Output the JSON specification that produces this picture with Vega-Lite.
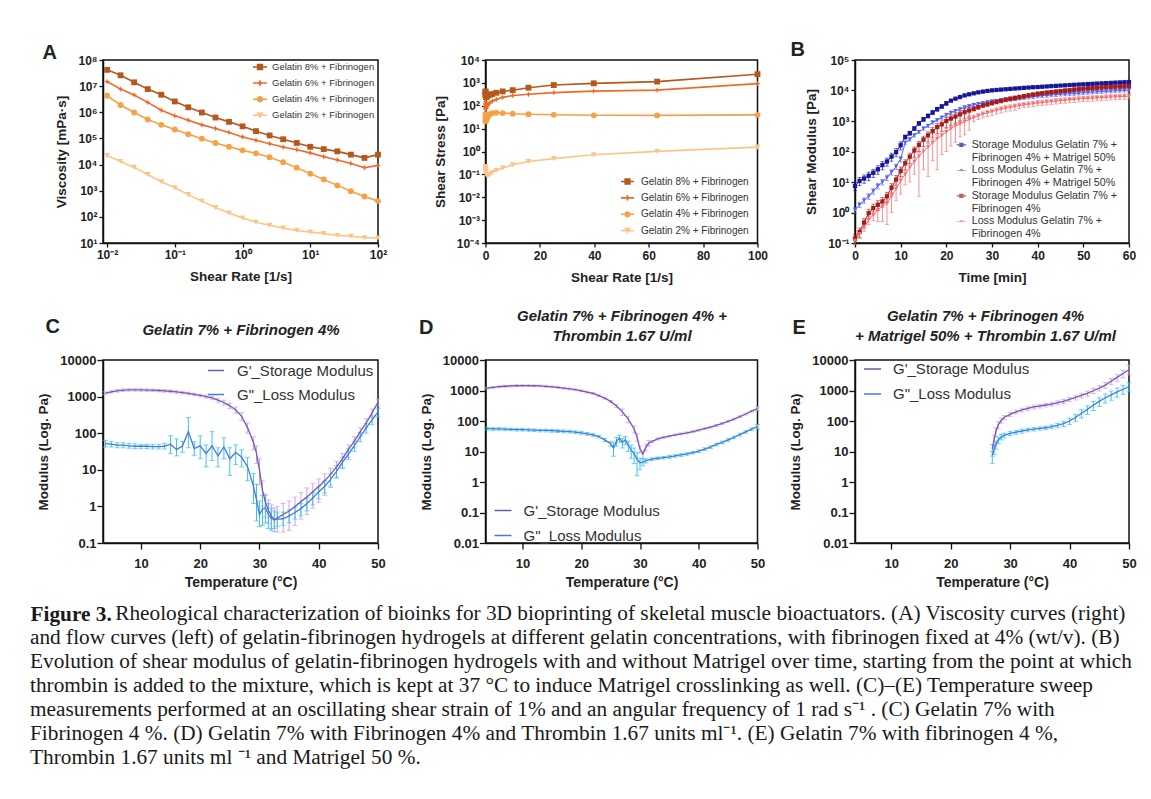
{
"$schema": "https://vega.github.io/schema/vega-lite/v6.json",
"background": "white",
"padding": {"left": 30, "top": 38, "right": 5, "bottom": 5},
"columns": 3,
"bounds": "flush",
"spacing": {"row": 117, "column": 97.5},
"resolve": {"scale": {"color": "independent", "shape": "independent"}, "legend": {"color": "independent", "shape": "independent"}},
"config": {
 "font": "Liberation Sans",
 "view": {"stroke": "#111", "strokeWidth": 1.5},
 "axis": {"domainColor": "#111", "domainWidth": 1.5, "tickColor": "#111", "tickWidth": 1.3, "tickSize": 4, "labelFont": "Liberation Sans", "labelFontWeight": "bold", "labelFontSize": 12, "labelColor": "#222", "labelPadding": 2, "labelFlush": false, "labelOverlap": false, "titleFont": "Liberation Sans", "titleFontWeight": "bold", "titleFontSize": 13.5, "titleColor": "#222", "grid": false},
 "legend": {"labelFont": "Liberation Sans", "labelColor": "#333", "padding": 0, "labelLimit": 400}
},
"datasets": {
 "visc": [
  {"rate":0.01,"series":"Gelatin 8% + Fibrinogen","viscosity":4.2e7,"stress":420},
  {"rate":0.0158,"series":"Gelatin 8% + Fibrinogen","viscosity":2.6e7,"stress":411},
  {"rate":0.0251,"series":"Gelatin 8% + Fibrinogen","viscosity":1.4e7,"stress":351},
  {"rate":0.0398,"series":"Gelatin 8% + Fibrinogen","viscosity":7.7e6,"stress":306},
  {"rate":0.0631,"series":"Gelatin 8% + Fibrinogen","viscosity":4.7e6,"stress":297},
  {"rate":0.1,"series":"Gelatin 8% + Fibrinogen","viscosity":2.6e6,"stress":260},
  {"rate":0.158,"series":"Gelatin 8% + Fibrinogen","viscosity":1.55e6,"stress":245},
  {"rate":0.251,"series":"Gelatin 8% + Fibrinogen","viscosity":9.8e5,"stress":246},
  {"rate":0.398,"series":"Gelatin 8% + Fibrinogen","viscosity":6.3e5,"stress":251},
  {"rate":0.631,"series":"Gelatin 8% + Fibrinogen","viscosity":4.3e5,"stress":271},
  {"rate":1,"series":"Gelatin 8% + Fibrinogen","viscosity":2.9e5,"stress":290},
  {"rate":1.58,"series":"Gelatin 8% + Fibrinogen","viscosity":1.9e5,"stress":300},
  {"rate":2.51,"series":"Gelatin 8% + Fibrinogen","viscosity":1.3e5,"stress":326},
  {"rate":3.98,"series":"Gelatin 8% + Fibrinogen","viscosity":9.3e4,"stress":370},
  {"rate":6.31,"series":"Gelatin 8% + Fibrinogen","viscosity":6.7e4,"stress":423},
  {"rate":10,"series":"Gelatin 8% + Fibrinogen","viscosity":4.8e4,"stress":480},
  {"rate":15.8,"series":"Gelatin 8% + Fibrinogen","viscosity":3.9e4,"stress":616},
  {"rate":25.1,"series":"Gelatin 8% + Fibrinogen","viscosity":3.2e4,"stress":803},
  {"rate":39.8,"series":"Gelatin 8% + Fibrinogen","viscosity":2.4e4,"stress":955},
  {"rate":63.1,"series":"Gelatin 8% + Fibrinogen","viscosity":1.8e4,"stress":1136},
  {"rate":100,"series":"Gelatin 8% + Fibrinogen","viscosity":2.4e4,"stress":2400},
  {"rate":0.01,"series":"Gelatin 6% + Fibrinogen","viscosity":1.5e7,"stress":150},
  {"rate":0.0158,"series":"Gelatin 6% + Fibrinogen","viscosity":7.7e6,"stress":122},
  {"rate":0.0251,"series":"Gelatin 6% + Fibrinogen","viscosity":4.6e6,"stress":115},
  {"rate":0.0398,"series":"Gelatin 6% + Fibrinogen","viscosity":2.4e6,"stress":95.5},
  {"rate":0.0631,"series":"Gelatin 6% + Fibrinogen","viscosity":1.2e6,"stress":75.7},
  {"rate":0.1,"series":"Gelatin 6% + Fibrinogen","viscosity":7.3e5,"stress":73},
  {"rate":0.158,"series":"Gelatin 6% + Fibrinogen","viscosity":5.0e5,"stress":79},
  {"rate":0.251,"series":"Gelatin 6% + Fibrinogen","viscosity":3.3e5,"stress":82.8},
  {"rate":0.398,"series":"Gelatin 6% + Fibrinogen","viscosity":2.4e5,"stress":95.5},
  {"rate":0.631,"series":"Gelatin 6% + Fibrinogen","viscosity":1.7e5,"stress":107},
  {"rate":1,"series":"Gelatin 6% + Fibrinogen","viscosity":1.14e5,"stress":114},
  {"rate":1.58,"series":"Gelatin 6% + Fibrinogen","viscosity":8.5e4,"stress":134},
  {"rate":2.51,"series":"Gelatin 6% + Fibrinogen","viscosity":6.3e4,"stress":158},
  {"rate":3.98,"series":"Gelatin 6% + Fibrinogen","viscosity":4.7e4,"stress":187},
  {"rate":6.31,"series":"Gelatin 6% + Fibrinogen","viscosity":3.7e4,"stress":233},
  {"rate":10,"series":"Gelatin 6% + Fibrinogen","viscosity":2.8e4,"stress":280},
  {"rate":15.8,"series":"Gelatin 6% + Fibrinogen","viscosity":2.0e4,"stress":316},
  {"rate":25.1,"series":"Gelatin 6% + Fibrinogen","viscosity":1.5e4,"stress":376},
  {"rate":39.8,"series":"Gelatin 6% + Fibrinogen","viscosity":1.1e4,"stress":438},
  {"rate":63.1,"series":"Gelatin 6% + Fibrinogen","viscosity":7.6e3,"stress":480},
  {"rate":100,"series":"Gelatin 6% + Fibrinogen","viscosity":9.3e3,"stress":930},
  {"rate":0.01,"series":"Gelatin 4% + Fibrinogen","viscosity":4.3e6,"stress":43},
  {"rate":0.0158,"series":"Gelatin 4% + Fibrinogen","viscosity":1.9e6,"stress":30},
  {"rate":0.0251,"series":"Gelatin 4% + Fibrinogen","viscosity":9.8e5,"stress":24.6},
  {"rate":0.0398,"series":"Gelatin 4% + Fibrinogen","viscosity":5.3e5,"stress":21.1},
  {"rate":0.0631,"series":"Gelatin 4% + Fibrinogen","viscosity":3.3e5,"stress":20.8},
  {"rate":0.1,"series":"Gelatin 4% + Fibrinogen","viscosity":2.2e5,"stress":22},
  {"rate":0.158,"series":"Gelatin 4% + Fibrinogen","viscosity":1.45e5,"stress":22.9},
  {"rate":0.251,"series":"Gelatin 4% + Fibrinogen","viscosity":9.8e4,"stress":24.6},
  {"rate":0.398,"series":"Gelatin 4% + Fibrinogen","viscosity":6.7e4,"stress":26.7},
  {"rate":0.631,"series":"Gelatin 4% + Fibrinogen","viscosity":4.8e4,"stress":30.3},
  {"rate":1,"series":"Gelatin 4% + Fibrinogen","viscosity":3.5e4,"stress":35},
  {"rate":1.58,"series":"Gelatin 4% + Fibrinogen","viscosity":2.7e4,"stress":42.7},
  {"rate":2.51,"series":"Gelatin 4% + Fibrinogen","viscosity":1.9e4,"stress":47.7},
  {"rate":3.98,"series":"Gelatin 4% + Fibrinogen","viscosity":1.24e4,"stress":49.4},
  {"rate":6.31,"series":"Gelatin 4% + Fibrinogen","viscosity":7.6e3,"stress":48},
  {"rate":10,"series":"Gelatin 4% + Fibrinogen","viscosity":4.5e3,"stress":45},
  {"rate":15.8,"series":"Gelatin 4% + Fibrinogen","viscosity":2.7e3,"stress":42.7},
  {"rate":25.1,"series":"Gelatin 4% + Fibrinogen","viscosity":1.6e3,"stress":40.2},
  {"rate":39.8,"series":"Gelatin 4% + Fibrinogen","viscosity":960,"stress":38.2},
  {"rate":63.1,"series":"Gelatin 4% + Fibrinogen","viscosity":600,"stress":37.9},
  {"rate":100,"series":"Gelatin 4% + Fibrinogen","viscosity":400,"stress":40},
  {"rate":0.01,"series":"Gelatin 2% + Fibrinogen","viscosity":2.2e4,"stress":0.22},
  {"rate":0.0158,"series":"Gelatin 2% + Fibrinogen","viscosity":1.3e4,"stress":0.205},
  {"rate":0.0251,"series":"Gelatin 2% + Fibrinogen","viscosity":7.8e3,"stress":0.196},
  {"rate":0.0398,"series":"Gelatin 2% + Fibrinogen","viscosity":4.2e3,"stress":0.167},
  {"rate":0.0631,"series":"Gelatin 2% + Fibrinogen","viscosity":2.2e3,"stress":0.139},
  {"rate":0.1,"series":"Gelatin 2% + Fibrinogen","viscosity":1.3e3,"stress":0.13},
  {"rate":0.158,"series":"Gelatin 2% + Fibrinogen","viscosity":710,"stress":0.112},
  {"rate":0.251,"series":"Gelatin 2% + Fibrinogen","viscosity":400,"stress":0.1},
  {"rate":0.398,"series":"Gelatin 2% + Fibrinogen","viscosity":230,"stress":0.0915},
  {"rate":0.631,"series":"Gelatin 2% + Fibrinogen","viscosity":140,"stress":0.0883},
  {"rate":1,"series":"Gelatin 2% + Fibrinogen","viscosity":91,"stress":0.091},
  {"rate":1.58,"series":"Gelatin 2% + Fibrinogen","viscosity":62,"stress":0.098},
  {"rate":2.51,"series":"Gelatin 2% + Fibrinogen","viscosity":48,"stress":0.12},
  {"rate":3.98,"series":"Gelatin 2% + Fibrinogen","viscosity":37,"stress":0.147},
  {"rate":6.31,"series":"Gelatin 2% + Fibrinogen","viscosity":30,"stress":0.189},
  {"rate":10,"series":"Gelatin 2% + Fibrinogen","viscosity":26,"stress":0.26},
  {"rate":15.8,"series":"Gelatin 2% + Fibrinogen","viscosity":23,"stress":0.363},
  {"rate":25.1,"series":"Gelatin 2% + Fibrinogen","viscosity":19.5,"stress":0.489},
  {"rate":39.8,"series":"Gelatin 2% + Fibrinogen","viscosity":18,"stress":0.716},
  {"rate":63.1,"series":"Gelatin 2% + Fibrinogen","viscosity":16,"stress":1.01},
  {"rate":100,"series":"Gelatin 2% + Fibrinogen","viscosity":15.5,"stress":1.55}
 ],
 "gel": [
  {"t":0,"series":"Storage Modulus Gelatin 7% + Fibrinogen 4%  + Matrigel 50%","modulus":7.4,"lo":5.2,"hi":9.6},
  {"t":1,"series":"Storage Modulus Gelatin 7% + Fibrinogen 4%  + Matrigel 50%","modulus":10.8,"lo":7.6,"hi":14},
  {"t":2,"series":"Storage Modulus Gelatin 7% + Fibrinogen 4%  + Matrigel 50%","modulus":13,"lo":9.1,"hi":17},
  {"t":3,"series":"Storage Modulus Gelatin 7% + Fibrinogen 4%  + Matrigel 50%","modulus":16,"lo":11,"hi":21},
  {"t":4,"series":"Storage Modulus Gelatin 7% + Fibrinogen 4%  + Matrigel 50%","modulus":20,"lo":14,"hi":26},
  {"t":5,"series":"Storage Modulus Gelatin 7% + Fibrinogen 4%  + Matrigel 50%","modulus":26,"lo":18,"hi":34},
  {"t":6,"series":"Storage Modulus Gelatin 7% + Fibrinogen 4%  + Matrigel 50%","modulus":36,"lo":25,"hi":47},
  {"t":7,"series":"Storage Modulus Gelatin 7% + Fibrinogen 4%  + Matrigel 50%","modulus":47,"lo":33,"hi":61},
  {"t":8,"series":"Storage Modulus Gelatin 7% + Fibrinogen 4%  + Matrigel 50%","modulus":68,"lo":48,"hi":88},
  {"t":9,"series":"Storage Modulus Gelatin 7% + Fibrinogen 4%  + Matrigel 50%","modulus":95,"lo":67,"hi":124},
  {"t":10,"series":"Storage Modulus Gelatin 7% + Fibrinogen 4%  + Matrigel 50%","modulus":160,"lo":112,"hi":208},
  {"t":11,"series":"Storage Modulus Gelatin 7% + Fibrinogen 4%  + Matrigel 50%","modulus":300,"lo":255,"hi":345},
  {"t":12,"series":"Storage Modulus Gelatin 7% + Fibrinogen 4%  + Matrigel 50%","modulus":400,"lo":340,"hi":460},
  {"t":13,"series":"Storage Modulus Gelatin 7% + Fibrinogen 4%  + Matrigel 50%","modulus":570,"lo":485,"hi":655},
  {"t":14,"series":"Storage Modulus Gelatin 7% + Fibrinogen 4%  + Matrigel 50%","modulus":840,"lo":714,"hi":966},
  {"t":15,"series":"Storage Modulus Gelatin 7% + Fibrinogen 4%  + Matrigel 50%","modulus":1140,"lo":969,"hi":1311},
  {"t":16,"series":"Storage Modulus Gelatin 7% + Fibrinogen 4%  + Matrigel 50%","modulus":1470,"lo":1250,"hi":1690},
  {"t":17,"series":"Storage Modulus Gelatin 7% + Fibrinogen 4%  + Matrigel 50%","modulus":1900,"lo":1615,"hi":2185},
  {"t":18,"series":"Storage Modulus Gelatin 7% + Fibrinogen 4%  + Matrigel 50%","modulus":2450,"lo":2083,"hi":2818},
  {"t":19,"series":"Storage Modulus Gelatin 7% + Fibrinogen 4%  + Matrigel 50%","modulus":3000,"lo":2550,"hi":3450},
  {"t":20,"series":"Storage Modulus Gelatin 7% + Fibrinogen 4%  + Matrigel 50%","modulus":3800,"lo":3230,"hi":4370},
  {"t":21,"series":"Storage Modulus Gelatin 7% + Fibrinogen 4%  + Matrigel 50%","modulus":4650,"lo":4325,"hi":4976},
  {"t":22,"series":"Storage Modulus Gelatin 7% + Fibrinogen 4%  + Matrigel 50%","modulus":5400,"lo":5022,"hi":5778},
  {"t":23,"series":"Storage Modulus Gelatin 7% + Fibrinogen 4%  + Matrigel 50%","modulus":6100,"lo":5673,"hi":6527},
  {"t":24,"series":"Storage Modulus Gelatin 7% + Fibrinogen 4%  + Matrigel 50%","modulus":6900,"lo":6417,"hi":7383},
  {"t":25,"series":"Storage Modulus Gelatin 7% + Fibrinogen 4%  + Matrigel 50%","modulus":7500,"lo":6975,"hi":8025},
  {"t":26,"series":"Storage Modulus Gelatin 7% + Fibrinogen 4%  + Matrigel 50%","modulus":8100,"lo":7533,"hi":8667},
  {"t":27,"series":"Storage Modulus Gelatin 7% + Fibrinogen 4%  + Matrigel 50%","modulus":8700,"lo":8091,"hi":9309},
  {"t":28,"series":"Storage Modulus Gelatin 7% + Fibrinogen 4%  + Matrigel 50%","modulus":9200,"lo":8556,"hi":9844},
  {"t":29,"series":"Storage Modulus Gelatin 7% + Fibrinogen 4%  + Matrigel 50%","modulus":9700,"lo":9021,"hi":10379},
  {"t":30,"series":"Storage Modulus Gelatin 7% + Fibrinogen 4%  + Matrigel 50%","modulus":10100,"lo":9393,"hi":10807},
  {"t":31,"series":"Storage Modulus Gelatin 7% + Fibrinogen 4%  + Matrigel 50%","modulus":10400,"lo":9672,"hi":11128},
  {"t":32,"series":"Storage Modulus Gelatin 7% + Fibrinogen 4%  + Matrigel 50%","modulus":10700,"lo":9951,"hi":11449},
  {"t":33,"series":"Storage Modulus Gelatin 7% + Fibrinogen 4%  + Matrigel 50%","modulus":11000,"lo":10230,"hi":11770},
  {"t":34,"series":"Storage Modulus Gelatin 7% + Fibrinogen 4%  + Matrigel 50%","modulus":11300,"lo":10509,"hi":12091},
  {"t":35,"series":"Storage Modulus Gelatin 7% + Fibrinogen 4%  + Matrigel 50%","modulus":11600,"lo":10788,"hi":12412},
  {"t":36,"series":"Storage Modulus Gelatin 7% + Fibrinogen 4%  + Matrigel 50%","modulus":11900,"lo":11067,"hi":12733},
  {"t":37,"series":"Storage Modulus Gelatin 7% + Fibrinogen 4%  + Matrigel 50%","modulus":12200,"lo":11346,"hi":13054},
  {"t":38,"series":"Storage Modulus Gelatin 7% + Fibrinogen 4%  + Matrigel 50%","modulus":12500,"lo":11625,"hi":13375},
  {"t":39,"series":"Storage Modulus Gelatin 7% + Fibrinogen 4%  + Matrigel 50%","modulus":12800,"lo":11904,"hi":13696},
  {"t":40,"series":"Storage Modulus Gelatin 7% + Fibrinogen 4%  + Matrigel 50%","modulus":13000,"lo":12090,"hi":13910},
  {"t":41,"series":"Storage Modulus Gelatin 7% + Fibrinogen 4%  + Matrigel 50%","modulus":13300,"lo":12369,"hi":14231},
  {"t":42,"series":"Storage Modulus Gelatin 7% + Fibrinogen 4%  + Matrigel 50%","modulus":13600,"lo":12648,"hi":14552},
  {"t":43,"series":"Storage Modulus Gelatin 7% + Fibrinogen 4%  + Matrigel 50%","modulus":13900,"lo":12927,"hi":14873},
  {"t":44,"series":"Storage Modulus Gelatin 7% + Fibrinogen 4%  + Matrigel 50%","modulus":14200,"lo":13206,"hi":15194},
  {"t":45,"series":"Storage Modulus Gelatin 7% + Fibrinogen 4%  + Matrigel 50%","modulus":14500,"lo":13485,"hi":15515},
  {"t":46,"series":"Storage Modulus Gelatin 7% + Fibrinogen 4%  + Matrigel 50%","modulus":14800,"lo":13764,"hi":15836},
  {"t":47,"series":"Storage Modulus Gelatin 7% + Fibrinogen 4%  + Matrigel 50%","modulus":15100,"lo":14043,"hi":16157},
  {"t":48,"series":"Storage Modulus Gelatin 7% + Fibrinogen 4%  + Matrigel 50%","modulus":15400,"lo":14322,"hi":16478},
  {"t":49,"series":"Storage Modulus Gelatin 7% + Fibrinogen 4%  + Matrigel 50%","modulus":15700,"lo":14601,"hi":16799},
  {"t":50,"series":"Storage Modulus Gelatin 7% + Fibrinogen 4%  + Matrigel 50%","modulus":16000,"lo":14880,"hi":17120},
  {"t":51,"series":"Storage Modulus Gelatin 7% + Fibrinogen 4%  + Matrigel 50%","modulus":16300,"lo":15159,"hi":17441},
  {"t":52,"series":"Storage Modulus Gelatin 7% + Fibrinogen 4%  + Matrigel 50%","modulus":16600,"lo":15438,"hi":17762},
  {"t":53,"series":"Storage Modulus Gelatin 7% + Fibrinogen 4%  + Matrigel 50%","modulus":16900,"lo":15717,"hi":18083},
  {"t":54,"series":"Storage Modulus Gelatin 7% + Fibrinogen 4%  + Matrigel 50%","modulus":17200,"lo":15996,"hi":18404},
  {"t":55,"series":"Storage Modulus Gelatin 7% + Fibrinogen 4%  + Matrigel 50%","modulus":17500,"lo":16275,"hi":18725},
  {"t":56,"series":"Storage Modulus Gelatin 7% + Fibrinogen 4%  + Matrigel 50%","modulus":17800,"lo":16554,"hi":19046},
  {"t":57,"series":"Storage Modulus Gelatin 7% + Fibrinogen 4%  + Matrigel 50%","modulus":18100,"lo":16833,"hi":19367},
  {"t":58,"series":"Storage Modulus Gelatin 7% + Fibrinogen 4%  + Matrigel 50%","modulus":18400,"lo":17112,"hi":19688},
  {"t":59,"series":"Storage Modulus Gelatin 7% + Fibrinogen 4%  + Matrigel 50%","modulus":18700,"lo":17391,"hi":20009},
  {"t":60,"series":"Storage Modulus Gelatin 7% + Fibrinogen 4%  + Matrigel 50%","modulus":19000,"lo":17670,"hi":20330},
  {"t":0,"series":"Loss Modulus Gelatin 7% + Fibrinogen 4%  + Matrigel 50%","modulus":1.2,"lo":0.96,"hi":1.44},
  {"t":1,"series":"Loss Modulus Gelatin 7% + Fibrinogen 4%  + Matrigel 50%","modulus":1.8,"lo":1.44,"hi":2.16},
  {"t":2,"series":"Loss Modulus Gelatin 7% + Fibrinogen 4%  + Matrigel 50%","modulus":2.5,"lo":2,"hi":3},
  {"t":3,"series":"Loss Modulus Gelatin 7% + Fibrinogen 4%  + Matrigel 50%","modulus":3.4,"lo":2.7,"hi":4.1},
  {"t":4,"series":"Loss Modulus Gelatin 7% + Fibrinogen 4%  + Matrigel 50%","modulus":5,"lo":4,"hi":6},
  {"t":5,"series":"Loss Modulus Gelatin 7% + Fibrinogen 4%  + Matrigel 50%","modulus":7.4,"lo":5.9,"hi":8.9},
  {"t":6,"series":"Loss Modulus Gelatin 7% + Fibrinogen 4%  + Matrigel 50%","modulus":10,"lo":8,"hi":12},
  {"t":7,"series":"Loss Modulus Gelatin 7% + Fibrinogen 4%  + Matrigel 50%","modulus":14,"lo":11.2,"hi":16.8},
  {"t":8,"series":"Loss Modulus Gelatin 7% + Fibrinogen 4%  + Matrigel 50%","modulus":21,"lo":16.8,"hi":25.2},
  {"t":9,"series":"Loss Modulus Gelatin 7% + Fibrinogen 4%  + Matrigel 50%","modulus":32,"lo":25.6,"hi":38.4},
  {"t":10,"series":"Loss Modulus Gelatin 7% + Fibrinogen 4%  + Matrigel 50%","modulus":57,"lo":45.6,"hi":68.4},
  {"t":11,"series":"Loss Modulus Gelatin 7% + Fibrinogen 4%  + Matrigel 50%","modulus":195,"lo":172,"hi":218},
  {"t":12,"series":"Loss Modulus Gelatin 7% + Fibrinogen 4%  + Matrigel 50%","modulus":250,"lo":220,"hi":280},
  {"t":13,"series":"Loss Modulus Gelatin 7% + Fibrinogen 4%  + Matrigel 50%","modulus":340,"lo":299,"hi":381},
  {"t":14,"series":"Loss Modulus Gelatin 7% + Fibrinogen 4%  + Matrigel 50%","modulus":440,"lo":387,"hi":493},
  {"t":15,"series":"Loss Modulus Gelatin 7% + Fibrinogen 4%  + Matrigel 50%","modulus":570,"lo":502,"hi":638},
  {"t":16,"series":"Loss Modulus Gelatin 7% + Fibrinogen 4%  + Matrigel 50%","modulus":700,"lo":616,"hi":784},
  {"t":17,"series":"Loss Modulus Gelatin 7% + Fibrinogen 4%  + Matrigel 50%","modulus":900,"lo":792,"hi":1008},
  {"t":18,"series":"Loss Modulus Gelatin 7% + Fibrinogen 4%  + Matrigel 50%","modulus":1080,"lo":950,"hi":1210},
  {"t":19,"series":"Loss Modulus Gelatin 7% + Fibrinogen 4%  + Matrigel 50%","modulus":1300,"lo":1144,"hi":1456},
  {"t":20,"series":"Loss Modulus Gelatin 7% + Fibrinogen 4%  + Matrigel 50%","modulus":1600,"lo":1408,"hi":1792},
  {"t":21,"series":"Loss Modulus Gelatin 7% + Fibrinogen 4%  + Matrigel 50%","modulus":1870,"lo":1646,"hi":2094},
  {"t":22,"series":"Loss Modulus Gelatin 7% + Fibrinogen 4%  + Matrigel 50%","modulus":2150,"lo":1892,"hi":2408},
  {"t":23,"series":"Loss Modulus Gelatin 7% + Fibrinogen 4%  + Matrigel 50%","modulus":2450,"lo":2156,"hi":2744},
  {"t":24,"series":"Loss Modulus Gelatin 7% + Fibrinogen 4%  + Matrigel 50%","modulus":2800,"lo":2464,"hi":3136},
  {"t":25,"series":"Loss Modulus Gelatin 7% + Fibrinogen 4%  + Matrigel 50%","modulus":3100,"lo":2728,"hi":3472},
  {"t":26,"series":"Loss Modulus Gelatin 7% + Fibrinogen 4%  + Matrigel 50%","modulus":3400,"lo":2992,"hi":3808},
  {"t":27,"series":"Loss Modulus Gelatin 7% + Fibrinogen 4%  + Matrigel 50%","modulus":3650,"lo":3212,"hi":4088},
  {"t":28,"series":"Loss Modulus Gelatin 7% + Fibrinogen 4%  + Matrigel 50%","modulus":3900,"lo":3432,"hi":4368},
  {"t":29,"series":"Loss Modulus Gelatin 7% + Fibrinogen 4%  + Matrigel 50%","modulus":4150,"lo":3652,"hi":4648},
  {"t":30,"series":"Loss Modulus Gelatin 7% + Fibrinogen 4%  + Matrigel 50%","modulus":4400,"lo":3872,"hi":4928},
  {"t":31,"series":"Loss Modulus Gelatin 7% + Fibrinogen 4%  + Matrigel 50%","modulus":4600,"lo":4048,"hi":5152},
  {"t":32,"series":"Loss Modulus Gelatin 7% + Fibrinogen 4%  + Matrigel 50%","modulus":4800,"lo":4224,"hi":5376},
  {"t":33,"series":"Loss Modulus Gelatin 7% + Fibrinogen 4%  + Matrigel 50%","modulus":5000,"lo":4400,"hi":5600},
  {"t":34,"series":"Loss Modulus Gelatin 7% + Fibrinogen 4%  + Matrigel 50%","modulus":5150,"lo":4532,"hi":5768},
  {"t":35,"series":"Loss Modulus Gelatin 7% + Fibrinogen 4%  + Matrigel 50%","modulus":5300,"lo":4664,"hi":5936},
  {"t":36,"series":"Loss Modulus Gelatin 7% + Fibrinogen 4%  + Matrigel 50%","modulus":5550,"lo":4884,"hi":6216},
  {"t":37,"series":"Loss Modulus Gelatin 7% + Fibrinogen 4%  + Matrigel 50%","modulus":5800,"lo":5104,"hi":6496},
  {"t":38,"series":"Loss Modulus Gelatin 7% + Fibrinogen 4%  + Matrigel 50%","modulus":6000,"lo":5280,"hi":6720},
  {"t":39,"series":"Loss Modulus Gelatin 7% + Fibrinogen 4%  + Matrigel 50%","modulus":6250,"lo":5500,"hi":7000},
  {"t":40,"series":"Loss Modulus Gelatin 7% + Fibrinogen 4%  + Matrigel 50%","modulus":6500,"lo":5720,"hi":7280},
  {"t":41,"series":"Loss Modulus Gelatin 7% + Fibrinogen 4%  + Matrigel 50%","modulus":6700,"lo":5896,"hi":7504},
  {"t":42,"series":"Loss Modulus Gelatin 7% + Fibrinogen 4%  + Matrigel 50%","modulus":6900,"lo":6072,"hi":7728},
  {"t":43,"series":"Loss Modulus Gelatin 7% + Fibrinogen 4%  + Matrigel 50%","modulus":7100,"lo":6248,"hi":7952},
  {"t":44,"series":"Loss Modulus Gelatin 7% + Fibrinogen 4%  + Matrigel 50%","modulus":7300,"lo":6424,"hi":8176},
  {"t":45,"series":"Loss Modulus Gelatin 7% + Fibrinogen 4%  + Matrigel 50%","modulus":7500,"lo":6600,"hi":8400},
  {"t":46,"series":"Loss Modulus Gelatin 7% + Fibrinogen 4%  + Matrigel 50%","modulus":7650,"lo":6732,"hi":8568},
  {"t":47,"series":"Loss Modulus Gelatin 7% + Fibrinogen 4%  + Matrigel 50%","modulus":7800,"lo":6864,"hi":8736},
  {"t":48,"series":"Loss Modulus Gelatin 7% + Fibrinogen 4%  + Matrigel 50%","modulus":7950,"lo":6996,"hi":8904},
  {"t":49,"series":"Loss Modulus Gelatin 7% + Fibrinogen 4%  + Matrigel 50%","modulus":8100,"lo":7128,"hi":9072},
  {"t":50,"series":"Loss Modulus Gelatin 7% + Fibrinogen 4%  + Matrigel 50%","modulus":8400,"lo":7392,"hi":9408},
  {"t":51,"series":"Loss Modulus Gelatin 7% + Fibrinogen 4%  + Matrigel 50%","modulus":8600,"lo":7568,"hi":9632},
  {"t":52,"series":"Loss Modulus Gelatin 7% + Fibrinogen 4%  + Matrigel 50%","modulus":8800,"lo":7744,"hi":9856},
  {"t":53,"series":"Loss Modulus Gelatin 7% + Fibrinogen 4%  + Matrigel 50%","modulus":9000,"lo":7920,"hi":10080},
  {"t":54,"series":"Loss Modulus Gelatin 7% + Fibrinogen 4%  + Matrigel 50%","modulus":9200,"lo":8096,"hi":10304},
  {"t":55,"series":"Loss Modulus Gelatin 7% + Fibrinogen 4%  + Matrigel 50%","modulus":9400,"lo":8272,"hi":10528},
  {"t":56,"series":"Loss Modulus Gelatin 7% + Fibrinogen 4%  + Matrigel 50%","modulus":9600,"lo":8448,"hi":10752},
  {"t":57,"series":"Loss Modulus Gelatin 7% + Fibrinogen 4%  + Matrigel 50%","modulus":9800,"lo":8624,"hi":10976},
  {"t":58,"series":"Loss Modulus Gelatin 7% + Fibrinogen 4%  + Matrigel 50%","modulus":10000,"lo":8800,"hi":11200},
  {"t":59,"series":"Loss Modulus Gelatin 7% + Fibrinogen 4%  + Matrigel 50%","modulus":10100,"lo":8888,"hi":11312},
  {"t":60,"series":"Loss Modulus Gelatin 7% + Fibrinogen 4%  + Matrigel 50%","modulus":10200,"lo":8976,"hi":11424},
  {"t":0,"series":"Storage Modulus Gelatin 7% + Fibrinogen 4%","modulus":0.14,"lo":0.09,"hi":0.19},
  {"t":1,"series":"Storage Modulus Gelatin 7% + Fibrinogen 4%","modulus":0.23,"lo":0.15,"hi":0.31},
  {"t":2,"series":"Storage Modulus Gelatin 7% + Fibrinogen 4%","modulus":0.47,"lo":0.31,"hi":0.63},
  {"t":3,"series":"Storage Modulus Gelatin 7% + Fibrinogen 4%","modulus":0.95,"lo":0.62,"hi":1.28},
  {"t":4,"series":"Storage Modulus Gelatin 7% + Fibrinogen 4%","modulus":1.4,"lo":0.91,"hi":1.89},
  {"t":5,"series":"Storage Modulus Gelatin 7% + Fibrinogen 4%","modulus":1.8,"lo":1.17,"hi":2.43},
  {"t":6,"series":"Storage Modulus Gelatin 7% + Fibrinogen 4%","modulus":2.3,"lo":1.5,"hi":3.1},
  {"t":7,"series":"Storage Modulus Gelatin 7% + Fibrinogen 4%","modulus":3.4,"lo":2.2,"hi":4.6},
  {"t":8,"series":"Storage Modulus Gelatin 7% + Fibrinogen 4%","modulus":6.5,"lo":4.2,"hi":8.8},
  {"t":9,"series":"Storage Modulus Gelatin 7% + Fibrinogen 4%","modulus":12,"lo":7.8,"hi":16.2},
  {"t":10,"series":"Storage Modulus Gelatin 7% + Fibrinogen 4%","modulus":23,"lo":15,"hi":31},
  {"t":11,"series":"Storage Modulus Gelatin 7% + Fibrinogen 4%","modulus":41,"lo":24.6,"hi":53.3},
  {"t":12,"series":"Storage Modulus Gelatin 7% + Fibrinogen 4%","modulus":68,"lo":40.8,"hi":88.4},
  {"t":13,"series":"Storage Modulus Gelatin 7% + Fibrinogen 4%","modulus":108,"lo":64.8,"hi":140},
  {"t":14,"series":"Storage Modulus Gelatin 7% + Fibrinogen 4%","modulus":165,"lo":99,"hi":214},
  {"t":15,"series":"Storage Modulus Gelatin 7% + Fibrinogen 4%","modulus":245,"lo":147,"hi":318},
  {"t":16,"series":"Storage Modulus Gelatin 7% + Fibrinogen 4%","modulus":340,"lo":204,"hi":442},
  {"t":17,"series":"Storage Modulus Gelatin 7% + Fibrinogen 4%","modulus":465,"lo":279,"hi":604},
  {"t":18,"series":"Storage Modulus Gelatin 7% + Fibrinogen 4%","modulus":630,"lo":378,"hi":819},
  {"t":19,"series":"Storage Modulus Gelatin 7% + Fibrinogen 4%","modulus":775,"lo":465,"hi":1007},
  {"t":20,"series":"Storage Modulus Gelatin 7% + Fibrinogen 4%","modulus":1000,"lo":600,"hi":1300},
  {"t":21,"series":"Storage Modulus Gelatin 7% + Fibrinogen 4%","modulus":1200,"lo":720,"hi":1560},
  {"t":22,"series":"Storage Modulus Gelatin 7% + Fibrinogen 4%","modulus":1400,"lo":840,"hi":1820},
  {"t":23,"series":"Storage Modulus Gelatin 7% + Fibrinogen 4%","modulus":1650,"lo":990,"hi":2145},
  {"t":24,"series":"Storage Modulus Gelatin 7% + Fibrinogen 4%","modulus":1950,"lo":1170,"hi":2535},
  {"t":25,"series":"Storage Modulus Gelatin 7% + Fibrinogen 4%","modulus":2200,"lo":1320,"hi":2860},
  {"t":26,"series":"Storage Modulus Gelatin 7% + Fibrinogen 4%","modulus":2500,"lo":2125,"hi":2875},
  {"t":27,"series":"Storage Modulus Gelatin 7% + Fibrinogen 4%","modulus":2850,"lo":2422,"hi":3278},
  {"t":28,"series":"Storage Modulus Gelatin 7% + Fibrinogen 4%","modulus":3250,"lo":2762,"hi":3738},
  {"t":29,"series":"Storage Modulus Gelatin 7% + Fibrinogen 4%","modulus":3550,"lo":3018,"hi":4082},
  {"t":30,"series":"Storage Modulus Gelatin 7% + Fibrinogen 4%","modulus":3900,"lo":3315,"hi":4485},
  {"t":31,"series":"Storage Modulus Gelatin 7% + Fibrinogen 4%","modulus":4250,"lo":3612,"hi":4888},
  {"t":32,"series":"Storage Modulus Gelatin 7% + Fibrinogen 4%","modulus":4600,"lo":3910,"hi":5290},
  {"t":33,"series":"Storage Modulus Gelatin 7% + Fibrinogen 4%","modulus":5000,"lo":4250,"hi":5750},
  {"t":34,"series":"Storage Modulus Gelatin 7% + Fibrinogen 4%","modulus":5350,"lo":4548,"hi":6152},
  {"t":35,"series":"Storage Modulus Gelatin 7% + Fibrinogen 4%","modulus":5700,"lo":4845,"hi":6555},
  {"t":36,"series":"Storage Modulus Gelatin 7% + Fibrinogen 4%","modulus":6100,"lo":5185,"hi":7015},
  {"t":37,"series":"Storage Modulus Gelatin 7% + Fibrinogen 4%","modulus":6500,"lo":5525,"hi":7475},
  {"t":38,"series":"Storage Modulus Gelatin 7% + Fibrinogen 4%","modulus":6900,"lo":5865,"hi":7935},
  {"t":39,"series":"Storage Modulus Gelatin 7% + Fibrinogen 4%","modulus":7300,"lo":6205,"hi":8395},
  {"t":40,"series":"Storage Modulus Gelatin 7% + Fibrinogen 4%","modulus":7800,"lo":6630,"hi":8970},
  {"t":41,"series":"Storage Modulus Gelatin 7% + Fibrinogen 4%","modulus":8100,"lo":6885,"hi":9315},
  {"t":42,"series":"Storage Modulus Gelatin 7% + Fibrinogen 4%","modulus":8450,"lo":7182,"hi":9718},
  {"t":43,"series":"Storage Modulus Gelatin 7% + Fibrinogen 4%","modulus":8800,"lo":7480,"hi":10120},
  {"t":44,"series":"Storage Modulus Gelatin 7% + Fibrinogen 4%","modulus":9150,"lo":7778,"hi":10522},
  {"t":45,"series":"Storage Modulus Gelatin 7% + Fibrinogen 4%","modulus":9500,"lo":8075,"hi":10925},
  {"t":46,"series":"Storage Modulus Gelatin 7% + Fibrinogen 4%","modulus":9850,"lo":8372,"hi":11328},
  {"t":47,"series":"Storage Modulus Gelatin 7% + Fibrinogen 4%","modulus":10200,"lo":8670,"hi":11730},
  {"t":48,"series":"Storage Modulus Gelatin 7% + Fibrinogen 4%","modulus":10600,"lo":9010,"hi":12190},
  {"t":49,"series":"Storage Modulus Gelatin 7% + Fibrinogen 4%","modulus":11000,"lo":9350,"hi":12650},
  {"t":50,"series":"Storage Modulus Gelatin 7% + Fibrinogen 4%","modulus":11400,"lo":9690,"hi":13110},
  {"t":51,"series":"Storage Modulus Gelatin 7% + Fibrinogen 4%","modulus":11700,"lo":9945,"hi":13455},
  {"t":52,"series":"Storage Modulus Gelatin 7% + Fibrinogen 4%","modulus":12000,"lo":10200,"hi":13800},
  {"t":53,"series":"Storage Modulus Gelatin 7% + Fibrinogen 4%","modulus":12300,"lo":10455,"hi":14145},
  {"t":54,"series":"Storage Modulus Gelatin 7% + Fibrinogen 4%","modulus":12600,"lo":10710,"hi":14490},
  {"t":55,"series":"Storage Modulus Gelatin 7% + Fibrinogen 4%","modulus":13000,"lo":11050,"hi":14950},
  {"t":56,"series":"Storage Modulus Gelatin 7% + Fibrinogen 4%","modulus":13200,"lo":11220,"hi":15180},
  {"t":57,"series":"Storage Modulus Gelatin 7% + Fibrinogen 4%","modulus":13400,"lo":11390,"hi":15410},
  {"t":58,"series":"Storage Modulus Gelatin 7% + Fibrinogen 4%","modulus":13600,"lo":11560,"hi":15640},
  {"t":59,"series":"Storage Modulus Gelatin 7% + Fibrinogen 4%","modulus":13800,"lo":11730,"hi":15870},
  {"t":60,"series":"Storage Modulus Gelatin 7% + Fibrinogen 4%","modulus":14000,"lo":11900,"hi":16100},
  {"t":0,"series":"Loss Modulus Gelatin 7% + Fibrinogen 4%","modulus":0.12,"lo":0.09,"hi":0.15},
  {"t":1,"series":"Loss Modulus Gelatin 7% + Fibrinogen 4%","modulus":0.2,"lo":0.14,"hi":0.26},
  {"t":2,"series":"Loss Modulus Gelatin 7% + Fibrinogen 4%","modulus":0.34,"lo":0.24,"hi":0.44},
  {"t":3,"series":"Loss Modulus Gelatin 7% + Fibrinogen 4%","modulus":0.57,"lo":0.4,"hi":0.74},
  {"t":4,"series":"Loss Modulus Gelatin 7% + Fibrinogen 4%","modulus":0.83,"lo":0.55,"hi":1.08},
  {"t":5,"series":"Loss Modulus Gelatin 7% + Fibrinogen 4%","modulus":1.2,"lo":0.5,"hi":1.56},
  {"t":6,"series":"Loss Modulus Gelatin 7% + Fibrinogen 4%","modulus":1.6,"lo":0.5,"hi":2.08},
  {"t":7,"series":"Loss Modulus Gelatin 7% + Fibrinogen 4%","modulus":2.0,"lo":0.4,"hi":2.6},
  {"t":8,"series":"Loss Modulus Gelatin 7% + Fibrinogen 4%","modulus":3.4,"lo":1.0,"hi":4.4},
  {"t":9,"series":"Loss Modulus Gelatin 7% + Fibrinogen 4%","modulus":6,"lo":2.5,"hi":7.8},
  {"t":10,"series":"Loss Modulus Gelatin 7% + Fibrinogen 4%","modulus":11,"lo":4,"hi":14.3},
  {"t":11,"series":"Loss Modulus Gelatin 7% + Fibrinogen 4%","modulus":18,"lo":8,"hi":23.4},
  {"t":12,"series":"Loss Modulus Gelatin 7% + Fibrinogen 4%","modulus":30,"lo":10,"hi":39},
  {"t":13,"series":"Loss Modulus Gelatin 7% + Fibrinogen 4%","modulus":47,"lo":18,"hi":61},
  {"t":14,"series":"Loss Modulus Gelatin 7% + Fibrinogen 4%","modulus":70,"lo":3.4,"hi":91},
  {"t":15,"series":"Loss Modulus Gelatin 7% + Fibrinogen 4%","modulus":100,"lo":25,"hi":130},
  {"t":16,"series":"Loss Modulus Gelatin 7% + Fibrinogen 4%","modulus":140,"lo":15,"hi":182},
  {"t":17,"series":"Loss Modulus Gelatin 7% + Fibrinogen 4%","modulus":195,"lo":50,"hi":254},
  {"t":18,"series":"Loss Modulus Gelatin 7% + Fibrinogen 4%","modulus":265,"lo":25,"hi":345},
  {"t":19,"series":"Loss Modulus Gelatin 7% + Fibrinogen 4%","modulus":340,"lo":80,"hi":442},
  {"t":20,"series":"Loss Modulus Gelatin 7% + Fibrinogen 4%","modulus":440,"lo":100,"hi":572},
  {"t":21,"series":"Loss Modulus Gelatin 7% + Fibrinogen 4%","modulus":560,"lo":150,"hi":728},
  {"t":22,"series":"Loss Modulus Gelatin 7% + Fibrinogen 4%","modulus":680,"lo":200,"hi":884},
  {"t":23,"series":"Loss Modulus Gelatin 7% + Fibrinogen 4%","modulus":810,"lo":300,"hi":1053},
  {"t":24,"series":"Loss Modulus Gelatin 7% + Fibrinogen 4%","modulus":950,"lo":350,"hi":1235},
  {"t":25,"series":"Loss Modulus Gelatin 7% + Fibrinogen 4%","modulus":1120,"lo":500,"hi":1456},
  {"t":26,"series":"Loss Modulus Gelatin 7% + Fibrinogen 4%","modulus":1300,"lo":975,"hi":1560},
  {"t":27,"series":"Loss Modulus Gelatin 7% + Fibrinogen 4%","modulus":1480,"lo":1110,"hi":1776},
  {"t":28,"series":"Loss Modulus Gelatin 7% + Fibrinogen 4%","modulus":1670,"lo":1252,"hi":2004},
  {"t":29,"series":"Loss Modulus Gelatin 7% + Fibrinogen 4%","modulus":1860,"lo":1395,"hi":2232},
  {"t":30,"series":"Loss Modulus Gelatin 7% + Fibrinogen 4%","modulus":2050,"lo":1538,"hi":2460},
  {"t":31,"series":"Loss Modulus Gelatin 7% + Fibrinogen 4%","modulus":2250,"lo":1688,"hi":2700},
  {"t":32,"series":"Loss Modulus Gelatin 7% + Fibrinogen 4%","modulus":2450,"lo":1838,"hi":2940},
  {"t":33,"series":"Loss Modulus Gelatin 7% + Fibrinogen 4%","modulus":2650,"lo":1988,"hi":3180},
  {"t":34,"series":"Loss Modulus Gelatin 7% + Fibrinogen 4%","modulus":2830,"lo":2122,"hi":3396},
  {"t":35,"series":"Loss Modulus Gelatin 7% + Fibrinogen 4%","modulus":3000,"lo":2250,"hi":3600},
  {"t":36,"series":"Loss Modulus Gelatin 7% + Fibrinogen 4%","modulus":3200,"lo":2560,"hi":3840},
  {"t":37,"series":"Loss Modulus Gelatin 7% + Fibrinogen 4%","modulus":3400,"lo":2720,"hi":4080},
  {"t":38,"series":"Loss Modulus Gelatin 7% + Fibrinogen 4%","modulus":3550,"lo":2840,"hi":4260},
  {"t":39,"series":"Loss Modulus Gelatin 7% + Fibrinogen 4%","modulus":3700,"lo":2960,"hi":4440},
  {"t":40,"series":"Loss Modulus Gelatin 7% + Fibrinogen 4%","modulus":3900,"lo":3120,"hi":4680},
  {"t":41,"series":"Loss Modulus Gelatin 7% + Fibrinogen 4%","modulus":4050,"lo":3240,"hi":4860},
  {"t":42,"series":"Loss Modulus Gelatin 7% + Fibrinogen 4%","modulus":4200,"lo":3360,"hi":5040},
  {"t":43,"series":"Loss Modulus Gelatin 7% + Fibrinogen 4%","modulus":4350,"lo":3480,"hi":5220},
  {"t":44,"series":"Loss Modulus Gelatin 7% + Fibrinogen 4%","modulus":4500,"lo":3600,"hi":5400},
  {"t":45,"series":"Loss Modulus Gelatin 7% + Fibrinogen 4%","modulus":4650,"lo":3720,"hi":5580},
  {"t":46,"series":"Loss Modulus Gelatin 7% + Fibrinogen 4%","modulus":4800,"lo":3840,"hi":5760},
  {"t":47,"series":"Loss Modulus Gelatin 7% + Fibrinogen 4%","modulus":4950,"lo":3960,"hi":5940},
  {"t":48,"series":"Loss Modulus Gelatin 7% + Fibrinogen 4%","modulus":5100,"lo":4080,"hi":6120},
  {"t":49,"series":"Loss Modulus Gelatin 7% + Fibrinogen 4%","modulus":5250,"lo":4200,"hi":6300},
  {"t":50,"series":"Loss Modulus Gelatin 7% + Fibrinogen 4%","modulus":5400,"lo":4320,"hi":6480},
  {"t":51,"series":"Loss Modulus Gelatin 7% + Fibrinogen 4%","modulus":5500,"lo":4400,"hi":6600},
  {"t":52,"series":"Loss Modulus Gelatin 7% + Fibrinogen 4%","modulus":5600,"lo":4480,"hi":6720},
  {"t":53,"series":"Loss Modulus Gelatin 7% + Fibrinogen 4%","modulus":5700,"lo":4560,"hi":6840},
  {"t":54,"series":"Loss Modulus Gelatin 7% + Fibrinogen 4%","modulus":5800,"lo":4640,"hi":6960},
  {"t":55,"series":"Loss Modulus Gelatin 7% + Fibrinogen 4%","modulus":6000,"lo":4800,"hi":7200},
  {"t":56,"series":"Loss Modulus Gelatin 7% + Fibrinogen 4%","modulus":6100,"lo":4880,"hi":7320},
  {"t":57,"series":"Loss Modulus Gelatin 7% + Fibrinogen 4%","modulus":6200,"lo":4960,"hi":7440},
  {"t":58,"series":"Loss Modulus Gelatin 7% + Fibrinogen 4%","modulus":6300,"lo":5040,"hi":7560},
  {"t":59,"series":"Loss Modulus Gelatin 7% + Fibrinogen 4%","modulus":6400,"lo":5120,"hi":7680},
  {"t":60,"series":"Loss Modulus Gelatin 7% + Fibrinogen 4%","modulus":6500,"lo":5200,"hi":7800}
 ],
 "sweepC": [
  {"temperature":4,"series":"G'_Storage Modulus","modulus":1250,"lo":1150,"hi":1350},
  {"temperature":5,"series":"G'_Storage Modulus","modulus":1350,"lo":1240,"hi":1460},
  {"temperature":6,"series":"G'_Storage Modulus","modulus":1440,"lo":1320,"hi":1560},
  {"temperature":7,"series":"G'_Storage Modulus","modulus":1500,"lo":1380,"hi":1620},
  {"temperature":8,"series":"G'_Storage Modulus","modulus":1520,"lo":1400,"hi":1640},
  {"temperature":9,"series":"G'_Storage Modulus","modulus":1530,"lo":1410,"hi":1650},
  {"temperature":10,"series":"G'_Storage Modulus","modulus":1520,"lo":1400,"hi":1640},
  {"temperature":11,"series":"G'_Storage Modulus","modulus":1510,"lo":1390,"hi":1630},
  {"temperature":12,"series":"G'_Storage Modulus","modulus":1500,"lo":1380,"hi":1620},
  {"temperature":13,"series":"G'_Storage Modulus","modulus":1470,"lo":1350,"hi":1590},
  {"temperature":14,"series":"G'_Storage Modulus","modulus":1440,"lo":1320,"hi":1560},
  {"temperature":15,"series":"G'_Storage Modulus","modulus":1400,"lo":1290,"hi":1510},
  {"temperature":16,"series":"G'_Storage Modulus","modulus":1340,"lo":1230,"hi":1450},
  {"temperature":17,"series":"G'_Storage Modulus","modulus":1280,"lo":1180,"hi":1380},
  {"temperature":18,"series":"G'_Storage Modulus","modulus":1220,"lo":1120,"hi":1320},
  {"temperature":19,"series":"G'_Storage Modulus","modulus":1150,"lo":1060,"hi":1240},
  {"temperature":20,"series":"G'_Storage Modulus","modulus":1080,"lo":990,"hi":1170},
  {"temperature":21,"series":"G'_Storage Modulus","modulus":1000,"lo":900,"hi":1100},
  {"temperature":22,"series":"G'_Storage Modulus","modulus":920,"lo":820,"hi":1020},
  {"temperature":23,"series":"G'_Storage Modulus","modulus":800,"lo":700,"hi":900},
  {"temperature":24,"series":"G'_Storage Modulus","modulus":690,"lo":590,"hi":800},
  {"temperature":25,"series":"G'_Storage Modulus","modulus":560,"lo":470,"hi":650},
  {"temperature":26,"series":"G'_Storage Modulus","modulus":430,"lo":350,"hi":520},
  {"temperature":27,"series":"G'_Storage Modulus","modulus":290,"lo":220,"hi":370},
  {"temperature":28,"series":"G'_Storage Modulus","modulus":140,"lo":100,"hi":190},
  {"temperature":29,"series":"G'_Storage Modulus","modulus":55,"lo":35,"hi":80},
  {"temperature":29.5,"series":"G'_Storage Modulus","modulus":28,"lo":15,"hi":45},
  {"temperature":30,"series":"G'_Storage Modulus","modulus":10,"lo":4,"hi":20},
  {"temperature":30.5,"series":"G'_Storage Modulus","modulus":2.8,"lo":1,"hi":5},
  {"temperature":31,"series":"G'_Storage Modulus","modulus":1.3,"lo":0.5,"hi":2.2},
  {"temperature":31.5,"series":"G'_Storage Modulus","modulus":0.8,"lo":0.35,"hi":1.5},
  {"temperature":32,"series":"G'_Storage Modulus","modulus":0.55,"lo":0.25,"hi":1.1},
  {"temperature":32.5,"series":"G'_Storage Modulus","modulus":0.42,"lo":0.2,"hi":0.9},
  {"temperature":33,"series":"G'_Storage Modulus","modulus":0.48,"lo":0.2,"hi":1.0},
  {"temperature":34,"series":"G'_Storage Modulus","modulus":0.6,"lo":0.2,"hi":1.2},
  {"temperature":35,"series":"G'_Storage Modulus","modulus":0.75,"lo":0.22,"hi":1.4},
  {"temperature":36,"series":"G'_Storage Modulus","modulus":1.0,"lo":0.3,"hi":1.8},
  {"temperature":37,"series":"G'_Storage Modulus","modulus":1.35,"lo":0.45,"hi":2.4},
  {"temperature":38,"series":"G'_Storage Modulus","modulus":1.8,"lo":0.6,"hi":3.2},
  {"temperature":39,"series":"G'_Storage Modulus","modulus":2.5,"lo":0.9,"hi":4.2},
  {"temperature":40,"series":"G'_Storage Modulus","modulus":3.5,"lo":1.3,"hi":5.6},
  {"temperature":41,"series":"G'_Storage Modulus","modulus":5,"lo":2,"hi":7.8},
  {"temperature":42,"series":"G'_Storage Modulus","modulus":7.5,"lo":3.3,"hi":11},
  {"temperature":43,"series":"G'_Storage Modulus","modulus":12,"lo":6,"hi":17},
  {"temperature":44,"series":"G'_Storage Modulus","modulus":20,"lo":11,"hi":28},
  {"temperature":45,"series":"G'_Storage Modulus","modulus":36,"lo":22,"hi":48},
  {"temperature":46,"series":"G'_Storage Modulus","modulus":60,"lo":40,"hi":80},
  {"temperature":47,"series":"G'_Storage Modulus","modulus":110,"lo":80,"hi":140},
  {"temperature":48,"series":"G'_Storage Modulus","modulus":190,"lo":140,"hi":250},
  {"temperature":49,"series":"G'_Storage Modulus","modulus":360,"lo":270,"hi":460},
  {"temperature":50,"series":"G'_Storage Modulus","modulus":700,"lo":550,"hi":850},
  {"temperature":4,"series":"G\"_Loss Modulus","modulus":52,"lo":42,"hi":64},
  {"temperature":5,"series":"G\"_Loss Modulus","modulus":50,"lo":42,"hi":60},
  {"temperature":6,"series":"G\"_Loss Modulus","modulus":47,"lo":40,"hi":55},
  {"temperature":7,"series":"G\"_Loss Modulus","modulus":47,"lo":40,"hi":55},
  {"temperature":8,"series":"G\"_Loss Modulus","modulus":45,"lo":39,"hi":52},
  {"temperature":9,"series":"G\"_Loss Modulus","modulus":44,"lo":38,"hi":51},
  {"temperature":10,"series":"G\"_Loss Modulus","modulus":44,"lo":38,"hi":50},
  {"temperature":11,"series":"G\"_Loss Modulus","modulus":44,"lo":38,"hi":50},
  {"temperature":12,"series":"G\"_Loss Modulus","modulus":43,"lo":37,"hi":50},
  {"temperature":13,"series":"G\"_Loss Modulus","modulus":43,"lo":37,"hi":50},
  {"temperature":14,"series":"G\"_Loss Modulus","modulus":44,"lo":37,"hi":52},
  {"temperature":15,"series":"G\"_Loss Modulus","modulus":50,"lo":28,"hi":85},
  {"temperature":16,"series":"G\"_Loss Modulus","modulus":36,"lo":24,"hi":70},
  {"temperature":17,"series":"G\"_Loss Modulus","modulus":44,"lo":30,"hi":60},
  {"temperature":18,"series":"G\"_Loss Modulus","modulus":110,"lo":40,"hi":270},
  {"temperature":19,"series":"G\"_Loss Modulus","modulus":38,"lo":25,"hi":58},
  {"temperature":20,"series":"G\"_Loss Modulus","modulus":45,"lo":20,"hi":85},
  {"temperature":21,"series":"G\"_Loss Modulus","modulus":28,"lo":12,"hi":48},
  {"temperature":22,"series":"G\"_Loss Modulus","modulus":45,"lo":18,"hi":110},
  {"temperature":23,"series":"G\"_Loss Modulus","modulus":24,"lo":12,"hi":40},
  {"temperature":24,"series":"G\"_Loss Modulus","modulus":42,"lo":20,"hi":75},
  {"temperature":25,"series":"G\"_Loss Modulus","modulus":20,"lo":7,"hi":40},
  {"temperature":26,"series":"G\"_Loss Modulus","modulus":30,"lo":14,"hi":48},
  {"temperature":27,"series":"G\"_Loss Modulus","modulus":22,"lo":12,"hi":35},
  {"temperature":28,"series":"G\"_Loss Modulus","modulus":12,"lo":5,"hi":22},
  {"temperature":29,"series":"G\"_Loss Modulus","modulus":3.5,"lo":1.2,"hi":8},
  {"temperature":29.5,"series":"G\"_Loss Modulus","modulus":1.5,"lo":0.4,"hi":4},
  {"temperature":30,"series":"G\"_Loss Modulus","modulus":0.6,"lo":0.28,"hi":1.4},
  {"temperature":30.5,"series":"G\"_Loss Modulus","modulus":0.85,"lo":0.3,"hi":2.0},
  {"temperature":31,"series":"G\"_Loss Modulus","modulus":0.9,"lo":0.35,"hi":2.0},
  {"temperature":31.5,"series":"G\"_Loss Modulus","modulus":0.6,"lo":0.25,"hi":1.2},
  {"temperature":32,"series":"G\"_Loss Modulus","modulus":0.47,"lo":0.22,"hi":0.9},
  {"temperature":32.5,"series":"G\"_Loss Modulus","modulus":0.44,"lo":0.25,"hi":0.75},
  {"temperature":33,"series":"G\"_Loss Modulus","modulus":0.45,"lo":0.28,"hi":0.7},
  {"temperature":34,"series":"G\"_Loss Modulus","modulus":0.46,"lo":0.3,"hi":0.7},
  {"temperature":35,"series":"G\"_Loss Modulus","modulus":0.55,"lo":0.35,"hi":0.8},
  {"temperature":36,"series":"G\"_Loss Modulus","modulus":0.68,"lo":0.45,"hi":0.95},
  {"temperature":37,"series":"G\"_Loss Modulus","modulus":0.87,"lo":0.55,"hi":1.2},
  {"temperature":38,"series":"G\"_Loss Modulus","modulus":1.2,"lo":0.75,"hi":1.7},
  {"temperature":39,"series":"G\"_Loss Modulus","modulus":1.7,"lo":1.1,"hi":2.4},
  {"temperature":40,"series":"G\"_Loss Modulus","modulus":2.5,"lo":1.6,"hi":3.5},
  {"temperature":41,"series":"G\"_Loss Modulus","modulus":3.5,"lo":2.3,"hi":5},
  {"temperature":42,"series":"G\"_Loss Modulus","modulus":5.5,"lo":3.6,"hi":7.8},
  {"temperature":43,"series":"G\"_Loss Modulus","modulus":9,"lo":6,"hi":13},
  {"temperature":44,"series":"G\"_Loss Modulus","modulus":16,"lo":11,"hi":22},
  {"temperature":45,"series":"G\"_Loss Modulus","modulus":27,"lo":19,"hi":37},
  {"temperature":46,"series":"G\"_Loss Modulus","modulus":45,"lo":32,"hi":60},
  {"temperature":47,"series":"G\"_Loss Modulus","modulus":80,"lo":58,"hi":105},
  {"temperature":48,"series":"G\"_Loss Modulus","modulus":140,"lo":100,"hi":185},
  {"temperature":49,"series":"G\"_Loss Modulus","modulus":230,"lo":170,"hi":300},
  {"temperature":50,"series":"G\"_Loss Modulus","modulus":380,"lo":280,"hi":480}
 ],
 "sweepD": [
  {"temperature":4,"series":"G'_Storage Modulus","modulus":1200,"lo":1116,"hi":1284},
  {"temperature":5,"series":"G'_Storage Modulus","modulus":1270,"lo":1181,"hi":1359},
  {"temperature":6,"series":"G'_Storage Modulus","modulus":1340,"lo":1246,"hi":1434},
  {"temperature":7,"series":"G'_Storage Modulus","modulus":1380,"lo":1283,"hi":1477},
  {"temperature":8,"series":"G'_Storage Modulus","modulus":1410,"lo":1311,"hi":1509},
  {"temperature":9,"series":"G'_Storage Modulus","modulus":1430,"lo":1330,"hi":1530},
  {"temperature":10,"series":"G'_Storage Modulus","modulus":1440,"lo":1339,"hi":1541},
  {"temperature":11,"series":"G'_Storage Modulus","modulus":1440,"lo":1339,"hi":1541},
  {"temperature":12,"series":"G'_Storage Modulus","modulus":1430,"lo":1330,"hi":1530},
  {"temperature":13,"series":"G'_Storage Modulus","modulus":1410,"lo":1311,"hi":1509},
  {"temperature":14,"series":"G'_Storage Modulus","modulus":1370,"lo":1274,"hi":1466},
  {"temperature":15,"series":"G'_Storage Modulus","modulus":1320,"lo":1228,"hi":1412},
  {"temperature":16,"series":"G'_Storage Modulus","modulus":1260,"lo":1172,"hi":1348},
  {"temperature":17,"series":"G'_Storage Modulus","modulus":1200,"lo":1116,"hi":1284},
  {"temperature":18,"series":"G'_Storage Modulus","modulus":1130,"lo":1051,"hi":1209},
  {"temperature":19,"series":"G'_Storage Modulus","modulus":1060,"lo":986,"hi":1134},
  {"temperature":20,"series":"G'_Storage Modulus","modulus":980,"lo":911,"hi":1049},
  {"temperature":21,"series":"G'_Storage Modulus","modulus":890,"lo":828,"hi":952},
  {"temperature":22,"series":"G'_Storage Modulus","modulus":800,"lo":744,"hi":856},
  {"temperature":23,"series":"G'_Storage Modulus","modulus":680,"lo":632,"hi":728},
  {"temperature":24,"series":"G'_Storage Modulus","modulus":560,"lo":521,"hi":599},
  {"temperature":25,"series":"G'_Storage Modulus","modulus":440,"lo":409,"hi":471},
  {"temperature":26,"series":"G'_Storage Modulus","modulus":310,"lo":279,"hi":341},
  {"temperature":27,"series":"G'_Storage Modulus","modulus":200,"lo":150,"hi":250},
  {"temperature":28,"series":"G'_Storage Modulus","modulus":115,"lo":86,"hi":144},
  {"temperature":29,"series":"G'_Storage Modulus","modulus":55,"lo":41,"hi":69},
  {"temperature":29.5,"series":"G'_Storage Modulus","modulus":30,"lo":22,"hi":38},
  {"temperature":30,"series":"G'_Storage Modulus","modulus":12,"lo":9,"hi":15},
  {"temperature":30.5,"series":"G'_Storage Modulus","modulus":8.3,"lo":6,"hi":10.5},
  {"temperature":31,"series":"G'_Storage Modulus","modulus":14,"lo":10.5,"hi":17.5},
  {"temperature":31.5,"series":"G'_Storage Modulus","modulus":19,"lo":15,"hi":23},
  {"temperature":32,"series":"G'_Storage Modulus","modulus":21,"lo":19.5,"hi":22.5},
  {"temperature":33,"series":"G'_Storage Modulus","modulus":26,"lo":24,"hi":28},
  {"temperature":34,"series":"G'_Storage Modulus","modulus":29,"lo":27,"hi":31},
  {"temperature":35,"series":"G'_Storage Modulus","modulus":32,"lo":30,"hi":34},
  {"temperature":36,"series":"G'_Storage Modulus","modulus":35,"lo":32.5,"hi":37.5},
  {"temperature":37,"series":"G'_Storage Modulus","modulus":38,"lo":35.3,"hi":40.7},
  {"temperature":38,"series":"G'_Storage Modulus","modulus":41,"lo":38,"hi":44},
  {"temperature":39,"series":"G'_Storage Modulus","modulus":45,"lo":42,"hi":48},
  {"temperature":40,"series":"G'_Storage Modulus","modulus":50,"lo":46.5,"hi":53.5},
  {"temperature":41,"series":"G'_Storage Modulus","modulus":56,"lo":52,"hi":60},
  {"temperature":42,"series":"G'_Storage Modulus","modulus":63,"lo":58.6,"hi":67.4},
  {"temperature":43,"series":"G'_Storage Modulus","modulus":72,"lo":67,"hi":77},
  {"temperature":44,"series":"G'_Storage Modulus","modulus":83,"lo":77,"hi":89},
  {"temperature":45,"series":"G'_Storage Modulus","modulus":98,"lo":91,"hi":105},
  {"temperature":46,"series":"G'_Storage Modulus","modulus":115,"lo":107,"hi":123},
  {"temperature":47,"series":"G'_Storage Modulus","modulus":140,"lo":130,"hi":150},
  {"temperature":48,"series":"G'_Storage Modulus","modulus":170,"lo":158,"hi":182},
  {"temperature":49,"series":"G'_Storage Modulus","modulus":210,"lo":195,"hi":225},
  {"temperature":50,"series":"G'_Storage Modulus","modulus":255,"lo":220,"hi":290},
  {"temperature":4,"series":"G\"_Loss Modulus","modulus":56,"lo":50,"hi":62},
  {"temperature":5,"series":"G\"_Loss Modulus","modulus":55,"lo":49.5,"hi":60.5},
  {"temperature":6,"series":"G\"_Loss Modulus","modulus":55,"lo":49.5,"hi":60.5},
  {"temperature":7,"series":"G\"_Loss Modulus","modulus":54,"lo":48.6,"hi":59.4},
  {"temperature":8,"series":"G\"_Loss Modulus","modulus":53,"lo":47.7,"hi":58.3},
  {"temperature":9,"series":"G\"_Loss Modulus","modulus":52,"lo":46.8,"hi":57.2},
  {"temperature":10,"series":"G\"_Loss Modulus","modulus":52,"lo":46.8,"hi":57.2},
  {"temperature":11,"series":"G\"_Loss Modulus","modulus":51,"lo":46,"hi":56},
  {"temperature":12,"series":"G\"_Loss Modulus","modulus":50,"lo":45,"hi":55},
  {"temperature":13,"series":"G\"_Loss Modulus","modulus":49,"lo":44,"hi":54},
  {"temperature":14,"series":"G\"_Loss Modulus","modulus":49,"lo":44,"hi":54},
  {"temperature":15,"series":"G\"_Loss Modulus","modulus":48,"lo":43,"hi":53},
  {"temperature":16,"series":"G\"_Loss Modulus","modulus":47,"lo":42,"hi":52},
  {"temperature":17,"series":"G\"_Loss Modulus","modulus":46,"lo":41,"hi":51},
  {"temperature":18,"series":"G\"_Loss Modulus","modulus":45,"lo":40.5,"hi":49.5},
  {"temperature":19,"series":"G\"_Loss Modulus","modulus":43,"lo":38.7,"hi":47.3},
  {"temperature":20,"series":"G\"_Loss Modulus","modulus":41,"lo":37,"hi":45},
  {"temperature":21,"series":"G\"_Loss Modulus","modulus":38,"lo":34,"hi":42},
  {"temperature":22,"series":"G\"_Loss Modulus","modulus":35,"lo":31.5,"hi":38.5},
  {"temperature":23,"series":"G\"_Loss Modulus","modulus":31,"lo":28,"hi":34},
  {"temperature":24,"series":"G\"_Loss Modulus","modulus":24,"lo":21,"hi":27},
  {"temperature":25,"series":"G\"_Loss Modulus","modulus":18,"lo":15,"hi":21},
  {"temperature":25.5,"series":"G\"_Loss Modulus","modulus":13,"lo":7,"hi":20},
  {"temperature":26,"series":"G\"_Loss Modulus","modulus":22,"lo":15,"hi":29},
  {"temperature":26.5,"series":"G\"_Loss Modulus","modulus":27,"lo":20,"hi":34},
  {"temperature":27,"series":"G\"_Loss Modulus","modulus":20,"lo":13,"hi":27},
  {"temperature":27.5,"series":"G\"_Loss Modulus","modulus":24,"lo":17,"hi":31},
  {"temperature":28,"series":"G\"_Loss Modulus","modulus":16,"lo":10,"hi":22},
  {"temperature":28.5,"series":"G\"_Loss Modulus","modulus":11,"lo":6,"hi":16},
  {"temperature":29,"series":"G\"_Loss Modulus","modulus":8.5,"lo":4,"hi":13},
  {"temperature":29.5,"series":"G\"_Loss Modulus","modulus":5.5,"lo":1.6,"hi":9.4},
  {"temperature":30,"series":"G\"_Loss Modulus","modulus":4.3,"lo":2.5,"hi":6},
  {"temperature":30.5,"series":"G\"_Loss Modulus","modulus":4.5,"lo":3.4,"hi":5.6},
  {"temperature":31,"series":"G\"_Loss Modulus","modulus":5,"lo":4.2,"hi":5.8},
  {"temperature":32,"series":"G\"_Loss Modulus","modulus":5.6,"lo":5,"hi":6.2},
  {"temperature":33,"series":"G\"_Loss Modulus","modulus":6,"lo":5.4,"hi":6.6},
  {"temperature":34,"series":"G\"_Loss Modulus","modulus":6.3,"lo":5.7,"hi":6.9},
  {"temperature":35,"series":"G\"_Loss Modulus","modulus":6.7,"lo":6,"hi":7.4},
  {"temperature":36,"series":"G\"_Loss Modulus","modulus":7.2,"lo":6.5,"hi":7.9},
  {"temperature":37,"series":"G\"_Loss Modulus","modulus":7.7,"lo":6.9,"hi":8.5},
  {"temperature":38,"series":"G\"_Loss Modulus","modulus":8.3,"lo":7.5,"hi":9.1},
  {"temperature":39,"series":"G\"_Loss Modulus","modulus":9.2,"lo":8.3,"hi":10.1},
  {"temperature":40,"series":"G\"_Loss Modulus","modulus":10.3,"lo":9.3,"hi":11.3},
  {"temperature":41,"series":"G\"_Loss Modulus","modulus":12,"lo":10.8,"hi":13.2},
  {"temperature":42,"series":"G\"_Loss Modulus","modulus":14,"lo":12.6,"hi":15.4},
  {"temperature":43,"series":"G\"_Loss Modulus","modulus":17,"lo":15.3,"hi":18.7},
  {"temperature":44,"series":"G\"_Loss Modulus","modulus":20,"lo":18,"hi":22},
  {"temperature":45,"series":"G\"_Loss Modulus","modulus":24,"lo":21.6,"hi":26.4},
  {"temperature":46,"series":"G\"_Loss Modulus","modulus":29,"lo":26,"hi":32},
  {"temperature":47,"series":"G\"_Loss Modulus","modulus":36,"lo":32,"hi":40},
  {"temperature":48,"series":"G\"_Loss Modulus","modulus":44,"lo":39.6,"hi":48.4},
  {"temperature":49,"series":"G\"_Loss Modulus","modulus":54,"lo":48.6,"hi":59.4},
  {"temperature":50,"series":"G\"_Loss Modulus","modulus":66,"lo":55,"hi":77}
 ],
 "sweepE": [
  {"temperature":27,"series":"G'_Storage Modulus","modulus":12,"lo":7,"hi":17},
  {"temperature":27.3,"series":"G'_Storage Modulus","modulus":25,"lo":16,"hi":34},
  {"temperature":27.6,"series":"G'_Storage Modulus","modulus":45,"lo":30,"hi":60},
  {"temperature":28,"series":"G'_Storage Modulus","modulus":75,"lo":55,"hi":95},
  {"temperature":28.5,"series":"G'_Storage Modulus","modulus":105,"lo":85,"hi":125},
  {"temperature":29,"series":"G'_Storage Modulus","modulus":130,"lo":108,"hi":152},
  {"temperature":30,"series":"G'_Storage Modulus","modulus":165,"lo":140,"hi":190},
  {"temperature":31,"series":"G'_Storage Modulus","modulus":200,"lo":172,"hi":228},
  {"temperature":32,"series":"G'_Storage Modulus","modulus":230,"lo":198,"hi":262},
  {"temperature":33,"series":"G'_Storage Modulus","modulus":260,"lo":224,"hi":296},
  {"temperature":34,"series":"G'_Storage Modulus","modulus":290,"lo":249,"hi":331},
  {"temperature":35,"series":"G'_Storage Modulus","modulus":310,"lo":267,"hi":353},
  {"temperature":36,"series":"G'_Storage Modulus","modulus":335,"lo":288,"hi":382},
  {"temperature":37,"series":"G'_Storage Modulus","modulus":360,"lo":310,"hi":410},
  {"temperature":38,"series":"G'_Storage Modulus","modulus":400,"lo":340,"hi":460},
  {"temperature":39,"series":"G'_Storage Modulus","modulus":440,"lo":374,"hi":506},
  {"temperature":40,"series":"G'_Storage Modulus","modulus":510,"lo":434,"hi":586},
  {"temperature":41,"series":"G'_Storage Modulus","modulus":590,"lo":490,"hi":690},
  {"temperature":42,"series":"G'_Storage Modulus","modulus":690,"lo":570,"hi":810},
  {"temperature":43,"series":"G'_Storage Modulus","modulus":800,"lo":650,"hi":950},
  {"temperature":44,"series":"G'_Storage Modulus","modulus":980,"lo":790,"hi":1170},
  {"temperature":45,"series":"G'_Storage Modulus","modulus":1200,"lo":960,"hi":1440},
  {"temperature":46,"series":"G'_Storage Modulus","modulus":1500,"lo":1170,"hi":1830},
  {"temperature":47,"series":"G'_Storage Modulus","modulus":2000,"lo":1530,"hi":2470},
  {"temperature":48,"series":"G'_Storage Modulus","modulus":2700,"lo":2000,"hi":3400},
  {"temperature":49,"series":"G'_Storage Modulus","modulus":3600,"lo":2600,"hi":4600},
  {"temperature":50,"series":"G'_Storage Modulus","modulus":4800,"lo":3300,"hi":6800},
  {"temperature":27,"series":"G\"_Loss Modulus","modulus":7.5,"lo":4,"hi":10},
  {"temperature":27.3,"series":"G\"_Loss Modulus","modulus":12,"lo":8,"hi":16},
  {"temperature":27.6,"series":"G\"_Loss Modulus","modulus":17,"lo":12,"hi":22},
  {"temperature":28,"series":"G\"_Loss Modulus","modulus":24,"lo":18,"hi":30},
  {"temperature":28.5,"series":"G\"_Loss Modulus","modulus":30,"lo":24,"hi":36},
  {"temperature":29,"series":"G\"_Loss Modulus","modulus":34,"lo":28,"hi":40},
  {"temperature":30,"series":"G\"_Loss Modulus","modulus":39,"lo":33,"hi":45},
  {"temperature":31,"series":"G\"_Loss Modulus","modulus":43,"lo":37,"hi":49},
  {"temperature":32,"series":"G\"_Loss Modulus","modulus":47,"lo":40,"hi":54},
  {"temperature":33,"series":"G\"_Loss Modulus","modulus":51,"lo":44,"hi":58},
  {"temperature":34,"series":"G\"_Loss Modulus","modulus":54,"lo":47,"hi":61},
  {"temperature":35,"series":"G\"_Loss Modulus","modulus":57,"lo":50,"hi":64},
  {"temperature":36,"series":"G\"_Loss Modulus","modulus":60,"lo":52,"hi":68},
  {"temperature":37,"series":"G\"_Loss Modulus","modulus":65,"lo":56,"hi":74},
  {"temperature":38,"series":"G\"_Loss Modulus","modulus":72,"lo":60,"hi":84},
  {"temperature":39,"series":"G\"_Loss Modulus","modulus":82,"lo":66,"hi":98},
  {"temperature":40,"series":"G\"_Loss Modulus","modulus":100,"lo":76,"hi":124},
  {"temperature":41,"series":"G\"_Loss Modulus","modulus":130,"lo":95,"hi":165},
  {"temperature":42,"series":"G\"_Loss Modulus","modulus":180,"lo":125,"hi":235},
  {"temperature":43,"series":"G\"_Loss Modulus","modulus":240,"lo":165,"hi":315},
  {"temperature":44,"series":"G\"_Loss Modulus","modulus":330,"lo":220,"hi":440},
  {"temperature":45,"series":"G\"_Loss Modulus","modulus":440,"lo":300,"hi":580},
  {"temperature":46,"series":"G\"_Loss Modulus","modulus":580,"lo":390,"hi":770},
  {"temperature":47,"series":"G\"_Loss Modulus","modulus":720,"lo":480,"hi":960},
  {"temperature":48,"series":"G\"_Loss Modulus","modulus":900,"lo":600,"hi":1200},
  {"temperature":49,"series":"G\"_Loss Modulus","modulus":1100,"lo":750,"hi":1450},
  {"temperature":50,"series":"G\"_Loss Modulus","modulus":1350,"lo":900,"hi":1800}
 ]
},
"concat": [
 {
  "width": 275, "height": 183,
  "data": {"name": "visc"},
  "layer": [
   {"mark": {"type": "point", "filled": true, "opacity": 0, "size": 34},
    "encoding": {
     "x": {"field": "rate", "type": "quantitative", "scale": {"type": "log", "domain": [0.0087, 100], "nice": false}, "axis": null},
     "y": {"field": "viscosity", "type": "quantitative", "scale": {"type": "log", "domain": [10, 1e8], "nice": false}, "axis": null},
     "color": {"field": "series", "type": "nominal", "scale": {"domain": ["Gelatin 8% + Fibrinogen", "Gelatin 6% + Fibrinogen", "Gelatin 4% + Fibrinogen", "Gelatin 2% + Fibrinogen"], "range": ["#b5581b", "#ef6a28", "#f7a045", "#fcc587"]},
       "legend": {"orient": "none", "legendX": 150, "legendY": 0, "title": null, "labelFontSize": 9.5, "labelFontWeight": "normal", "labelOffset": 5, "rowPadding": 4.1, "symbolStrokeWidth": 0, "symbolOpacity": 1, "symbolSize": 196}},
     "shape": {"field": "series", "type": "nominal", "scale": {"domain": ["Gelatin 8% + Fibrinogen", "Gelatin 6% + Fibrinogen", "Gelatin 4% + Fibrinogen", "Gelatin 2% + Fibrinogen"], "range": ["M-1,-0.11H1V0.11H-1ZM-0.46,-0.46H0.46V0.46H-0.46Z", "M-1,-0.11H1V0.11H-1ZM0,-0.55L0.16,-0.16L0.55,0L0.16,0.16L0,0.55L-0.16,0.16L-0.55,0L-0.16,-0.16Z", "M-1,-0.11H1V0.11H-1ZM0.46,0A0.46,0.46,0,1,1,-0.46,0A0.46,0.46,0,1,1,0.46,0Z", "M-1,-0.11H1V0.11H-1ZM-0.5,-0.42H0.5L0,0.5Z"]},
       "legend": {"orient": "none", "legendX": 150, "legendY": 0, "title": null, "labelFontSize": 9.5, "labelFontWeight": "normal", "labelOffset": 5, "rowPadding": 4.1, "symbolStrokeWidth": 0, "symbolOpacity": 1, "symbolSize": 196}}
    }},
   {"mark": {"type": "line", "strokeWidth": 1.6},
    "encoding": {
     "x": {"field": "rate", "type": "quantitative",
       "axis": {"orient": "bottom", "values": [0.01, 0.1, 1, 10, 100], "title": "Shear Rate [1/s]", "titlePadding": 9,
         "labelExpr": "'10' + (datum.value < 1 ? '⁻' : '') + ['⁰','¹','²','³','⁴','⁵','⁶','⁷','⁸','⁹'][abs(round(log(datum.value)/LN10))]"}},
     "y": {"field": "viscosity", "type": "quantitative",
       "axis": {"orient": "left", "values": [10, 100, 1000, 1e4, 1e5, 1e6, 1e7, 1e8], "title": "Viscosity [mPa·s]", "titlePadding": 9,
         "labelExpr": "'10' + (datum.value < 1 ? '⁻' : '') + ['⁰','¹','²','³','⁴','⁵','⁶','⁷','⁸','⁹'][abs(round(log(datum.value)/LN10))]"}},
     "color": {"field": "series", "type": "nominal"}
    }},
   {"mark": {"type": "point", "filled": true, "opacity": 1, "size": 34},
    "encoding": {
     "x": {"field": "rate", "type": "quantitative",
       "axis": {"orient": "top", "labels": false, "ticks": false, "domain": false, "title": "A", "titleFontSize": 20, "titleAngle": 0, "titleX": -61, "titleY": -2, "titleAlign": "left", "titleBaseline": "alphabetic"}},
     "y": {"field": "viscosity", "type": "quantitative", "axis": null},
     "color": {"field": "series", "type": "nominal"},
     "shape": {"condition": [{"test": "datum.series === 'Gelatin 8% + Fibrinogen'", "value": "square"}, {"test": "datum.series === 'Gelatin 6% + Fibrinogen'", "value": "M0,-1L0.3,-0.3L1,0L0.3,0.3L0,1L-0.3,0.3L-1,0L-0.3,-0.3Z"}, {"test": "datum.series === 'Gelatin 4% + Fibrinogen'", "value": "circle"}], "value": "triangle-down"}
    }}
  ],
  "resolve": {"axis": {"x": "independent", "y": "independent"}}
 },
 {
  "width": 272, "height": 183,
  "data": {"name": "visc"},
  "layer": [
   {"mark": {"type": "point", "filled": true, "opacity": 0, "size": 34},
    "encoding": {
     "x": {"field": "rate", "type": "quantitative", "scale": {"domain": [0, 100], "nice": false}, "axis": null},
     "y": {"field": "stress", "type": "quantitative", "scale": {"type": "log", "domain": [1e-4, 1e4], "nice": false}, "axis": null},
     "color": {"field": "series", "type": "nominal", "scale": {"domain": ["Gelatin 8% + Fibrinogen", "Gelatin 6% + Fibrinogen", "Gelatin 4% + Fibrinogen", "Gelatin 2% + Fibrinogen"], "range": ["#b5581b", "#ef6a28", "#f7a045", "#fcc587"]},
       "legend": {"orient": "none", "legendX": 135, "legendY": 114.5, "title": null, "labelFontSize": 10, "labelFontWeight": "normal", "labelOffset": 6.5, "rowPadding": 4.4, "symbolStrokeWidth": 0, "symbolOpacity": 1, "symbolSize": 170}},
     "shape": {"field": "series", "type": "nominal", "scale": {"domain": ["Gelatin 8% + Fibrinogen", "Gelatin 6% + Fibrinogen", "Gelatin 4% + Fibrinogen", "Gelatin 2% + Fibrinogen"], "range": ["M-1,-0.12H1V0.12H-1ZM-0.48,-0.48H0.48V0.48H-0.48Z", "M-1,-0.12H1V0.12H-1ZM0,-0.55L0.16,-0.16L0.55,0L0.16,0.16L0,0.55L-0.16,0.16L-0.55,0L-0.16,-0.16Z", "M-1,-0.12H1V0.12H-1ZM0.48,0A0.48,0.48,0,1,1,-0.48,0A0.48,0.48,0,1,1,0.48,0Z", "M-1,-0.12H1V0.12H-1ZM-0.52,-0.44H0.52L0,0.52Z"]},
       "legend": {"orient": "none", "legendX": 135, "legendY": 114.5, "title": null, "labelFontSize": 10, "labelFontWeight": "normal", "labelOffset": 6.5, "rowPadding": 4.4, "symbolStrokeWidth": 0, "symbolOpacity": 1, "symbolSize": 170}}
    }},
   {"mark": {"type": "line", "strokeWidth": 1.6},
    "encoding": {
     "x": {"field": "rate", "type": "quantitative",
       "axis": {"orient": "bottom", "values": [0, 20, 40, 60, 80, 100], "title": "Shear Rate [1/s]", "titlePadding": 9, "labelPadding": 3}},
     "y": {"field": "stress", "type": "quantitative",
       "axis": {"orient": "left", "values": [1e-4, 1e-3, 0.01, 0.1, 1, 10, 100, 1000, 1e4], "title": "Shear Stress [Pa]", "titlePadding": 9,
         "labelExpr": "'10' + (datum.value < 1 ? '⁻' : '') + ['⁰','¹','²','³','⁴','⁵','⁶','⁷','⁸','⁹'][abs(round(log(datum.value)/LN10))]"}},
     "color": {"field": "series", "type": "nominal"}
    }},
   {"mark": {"type": "point", "filled": true, "opacity": 1, "size": 34},
    "encoding": {
     "x": {"field": "rate", "type": "quantitative", "axis": null},
     "y": {"field": "stress", "type": "quantitative", "axis": null},
     "color": {"field": "series", "type": "nominal"},
     "shape": {"condition": [{"test": "datum.series === 'Gelatin 8% + Fibrinogen'", "value": "square"}, {"test": "datum.series === 'Gelatin 6% + Fibrinogen'", "value": "M0,-1L0.3,-0.3L1,0L0.3,0.3L0,1L-0.3,0.3L-1,0L-0.3,-0.3Z"}, {"test": "datum.series === 'Gelatin 4% + Fibrinogen'", "value": "circle"}], "value": "triangle-down"}
    }}
  ],
  "resolve": {"axis": {"x": "independent", "y": "independent"}}
 },
 {
  "width": 274, "height": 183,
  "data": {"name": "gel"},
  "layer": [
   {"mark": {"type": "point", "filled": true, "opacity": 0, "size": 18},
    "encoding": {
     "x": {"field": "t", "type": "quantitative", "scale": {"domain": [0, 60], "nice": false}, "axis": null},
     "y": {"field": "modulus", "type": "quantitative", "scale": {"type": "log", "domain": [0.1, 1e5], "nice": false}, "axis": null},
     "color": {"field": "series", "type": "nominal", "scale": {"domain": ["Storage Modulus Gelatin 7% + Fibrinogen 4%  + Matrigel 50%", "Loss Modulus Gelatin 7% + Fibrinogen 4%  + Matrigel 50%", "Storage Modulus Gelatin 7% + Fibrinogen 4%", "Loss Modulus Gelatin 7% + Fibrinogen 4%"], "range": ["#16169a", "#5862ee", "#a61c1c", "#f27272"]},
       "legend": {"orient": "none", "legendX": 101, "legendY": 79.5, "title": null, "labelFontSize": 10.7, "labelFontWeight": "normal", "labelOffset": 5, "rowPadding": 1.5, "symbolStrokeWidth": 0, "symbolOpacity": 1, "symbolSize": 90,
         "labelExpr": "split(replace(datum.label, '7% + ', '7% +|'), '|')"}},
     "shape": {"field": "series", "type": "nominal", "scale": {"domain": ["Storage Modulus Gelatin 7% + Fibrinogen 4%  + Matrigel 50%", "Loss Modulus Gelatin 7% + Fibrinogen 4%  + Matrigel 50%", "Storage Modulus Gelatin 7% + Fibrinogen 4%", "Loss Modulus Gelatin 7% + Fibrinogen 4%"], "range": ["M-1,-0.13H1V0.13H-1ZM-0.45,-0.45H0.45V0.45H-0.45Z", "M-1,-0.1H1V0.1H-1ZM-0.35,-0.3H0.35L0,0.35Z", "M-1,-0.13H1V0.13H-1ZM-0.45,-0.45H0.45V0.45H-0.45Z", "M-1,-0.1H1V0.1H-1ZM-0.35,-0.3H0.35L0,0.35Z"]},
       "legend": {"orient": "none", "legendX": 101, "legendY": 79.5, "title": null, "labelFontSize": 10.7, "labelFontWeight": "normal", "labelOffset": 5, "rowPadding": 1.5, "symbolStrokeWidth": 0, "symbolOpacity": 1, "symbolSize": 90,
         "labelExpr": "split(replace(datum.label, '7% + ', '7% +|'), '|')"}}
    }},
   {"mark": {"type": "errorbar", "ticks": {"size": 4, "thickness": 0.8}, "thickness": 0.8},
    "encoding": {
     "x": {"field": "t", "type": "quantitative",
       "axis": {"orient": "top", "labels": false, "ticks": false, "domain": false, "title": "B", "titleFontSize": 20, "titleAngle": 0, "titleX": -65, "titleY": -5, "titleAlign": "left", "titleBaseline": "alphabetic"}},
     "y": {"field": "lo", "type": "quantitative", "axis": null},
     "y2": {"field": "hi"},
     "color": {"field": "series", "type": "nominal"}
    }},
   {"mark": {"type": "line", "strokeWidth": 1},
    "encoding": {
     "x": {"field": "t", "type": "quantitative",
       "axis": {"orient": "bottom", "values": [0, 10, 20, 30, 40, 50, 60], "title": "Time [min]", "titlePadding": 9, "labelPadding": 3}},
     "y": {"field": "modulus", "type": "quantitative",
       "axis": {"orient": "left", "values": [0.1, 1, 10, 100, 1000, 1e4, 1e5], "title": "Shear Modulus [Pa]", "titlePadding": 9,
         "labelExpr": "'10' + (datum.value < 1 ? '⁻' : '') + ['⁰','¹','²','³','⁴','⁵','⁶','⁷','⁸','⁹'][abs(round(log(datum.value)/LN10))]"}},
     "color": {"field": "series", "type": "nominal"}
    }},
   {"mark": {"type": "point", "filled": true, "opacity": 1, "size": 18},
    "encoding": {
     "x": {"field": "t", "type": "quantitative", "axis": null},
     "y": {"field": "modulus", "type": "quantitative", "axis": null},
     "color": {"field": "series", "type": "nominal"},
     "shape": {"condition": {"test": "indexof(datum.series, 'Storage') === 0", "value": "square"}, "value": "triangle-down"}
    }}
  ],
  "resolve": {"axis": {"x": "independent", "y": "independent"}}
 },
 {
  "width": 275, "height": 183,
  "data": {"name": "sweepC"},
  "layer": [
   {"mark": {"type": "errorbar", "ticks": {"size": 5, "thickness": 1}, "thickness": 1},
    "encoding": {
     "x": {"field": "temperature", "type": "quantitative", "scale": {"domain": [3.6, 50], "nice": false, "zero": false},
       "axis": {"orient": "top", "labels": false, "ticks": false, "domain": false, "title": "Gelatin 7% + Fibrinogen 4%", "titleFontStyle": "italic", "titleFontSize": 15, "titleAngle": 0, "titleX": 137.5, "titleY": -26, "titleAlign": "center", "titleBaseline": "alphabetic"}},
     "y": {"field": "lo", "type": "quantitative", "scale": {"type": "log", "domain": [0.1, 10000], "nice": false},
       "axis": {"orient": "right", "labels": false, "ticks": false, "domain": false, "title": "C", "titleFontSize": 20, "titleAngle": 0, "titleX": -333, "titleY": -28, "titleAlign": "left", "titleBaseline": "alphabetic"}},
     "y2": {"field": "hi"},
     "color": {"field": "series", "type": "nominal", "scale": {"domain": ["G'_Storage Modulus", "G\"_Loss Modulus"], "range": ["#c6a3ea", "#36c4ec"]}, "legend": null}
    }},
   {"mark": {"type": "line", "strokeWidth": 1.3},
    "encoding": {
     "x": {"field": "temperature", "type": "quantitative",
       "axis": {"orient": "bottom", "values": [10, 20, 30, 40, 50], "title": "Temperature (°C)", "tickSize": 6, "labelPadding": 8, "labelFontSize": 13, "titleFontSize": 14, "titlePadding": 5}},
     "y": {"field": "modulus", "type": "quantitative",
       "axis": {"orient": "left", "values": [0.1, 1, 10, 100, 1000, 10000], "format": "~g", "title": "Modulus (Log. Pa)", "tickSize": 6, "labelPadding": 1, "labelFontSize": 13, "titleFontSize": 13.5, "titlePadding": 9}},
     "color": {"field": "series", "type": "nominal", "scale": {"domain": ["G'_Storage Modulus", "G\"_Loss Modulus"], "range": ["#7657ad", "#4479dd"]},
       "legend": {"orient": "none", "legendX": 104, "legendY": 1.5, "title": null, "labelFontSize": 15, "labelFontWeight": "normal", "symbolType": "stroke", "symbolSize": 256, "symbolStrokeWidth": 1.5, "labelOffset": 12, "rowPadding": 7}}
    }}
  ],
  "resolve": {"scale": {"color": "independent"}, "axis": {"x": "independent", "y": "independent"}}
 },
 {
  "width": 272, "height": 183,
  "data": {"name": "sweepD"},
  "layer": [
   {"mark": {"type": "errorbar", "ticks": {"size": 5, "thickness": 1}, "thickness": 1},
    "encoding": {
     "x": {"field": "temperature", "type": "quantitative", "scale": {"domain": [3.7, 50], "nice": false, "zero": false},
       "axis": {"orient": "top", "labels": false, "ticks": false, "domain": false, "title": ["Gelatin 7% + Fibrinogen 4% +", "Thrombin 1.67 U/ml"], "titleLineHeight": 20.5, "titleFontStyle": "italic", "titleFontSize": 15, "titleAngle": 0, "titleX": 136, "titleY": -40, "titleAlign": "center", "titleBaseline": "alphabetic"}},
     "y": {"field": "lo", "type": "quantitative", "scale": {"type": "log", "domain": [0.01, 10000], "nice": false},
       "axis": {"orient": "right", "labels": false, "ticks": false, "domain": false, "title": "D", "titleFontSize": 20, "titleAngle": 0, "titleX": -339, "titleY": -26.5, "titleAlign": "left", "titleBaseline": "alphabetic"}},
     "y2": {"field": "hi"},
     "color": {"field": "series", "type": "nominal", "scale": {"domain": ["G'_Storage Modulus", "G\"_Loss Modulus"], "range": ["#c6a3ea", "#36c4ec"]}, "legend": null}
    }},
   {"mark": {"type": "line", "strokeWidth": 1.3},
    "encoding": {
     "x": {"field": "temperature", "type": "quantitative",
       "axis": {"orient": "bottom", "values": [10, 20, 30, 40, 50], "title": "Temperature (°C)", "tickSize": 6, "labelPadding": 8, "labelFontSize": 13, "titleFontSize": 14, "titlePadding": 5}},
     "y": {"field": "modulus", "type": "quantitative",
       "axis": {"orient": "left", "values": [0.01, 0.1, 1, 10, 100, 1000, 10000], "format": "~g", "title": "Modulus (Log. Pa)", "tickSize": 6, "labelPadding": 1, "labelFontSize": 13, "titleFontSize": 13.5, "titlePadding": 9}},
     "color": {"field": "series", "type": "nominal", "scale": {"domain": ["G'_Storage Modulus", "G\"_Loss Modulus"], "range": ["#7657ad", "#4479dd"]},
       "legend": {"orient": "none", "legendX": 8, "legendY": 141, "title": null, "labelFontSize": 15, "labelFontWeight": "normal", "symbolType": "stroke", "symbolSize": 289, "symbolStrokeWidth": 1.5, "labelOffset": 11, "rowPadding": 7}}
    }}
  ],
  "resolve": {"scale": {"color": "independent"}, "axis": {"x": "independent", "y": "independent"}}
 },
 {
  "width": 274, "height": 183,
  "data": {"name": "sweepE"},
  "layer": [
   {"mark": {"type": "errorbar", "ticks": {"size": 5, "thickness": 1}, "thickness": 1},
    "encoding": {
     "x": {"field": "temperature", "type": "quantitative", "scale": {"domain": [3.9, 50], "nice": false, "zero": false},
       "axis": {"orient": "top", "labels": false, "ticks": false, "domain": false, "title": ["Gelatin 7% + Fibrinogen 4%", "+ Matrigel 50% + Thrombin 1.67 U/ml"], "titleLineHeight": 20.5, "titleFontStyle": "italic", "titleFontSize": 15, "titleAngle": 0, "titleX": 130, "titleY": -40, "titleAlign": "center", "titleBaseline": "alphabetic"}},
     "y": {"field": "lo", "type": "quantitative", "scale": {"type": "log", "domain": [0.01, 10000], "nice": false},
       "axis": {"orient": "right", "labels": false, "ticks": false, "domain": false, "title": "E", "titleFontSize": 20, "titleAngle": 0, "titleX": -337, "titleY": -26.5, "titleAlign": "left", "titleBaseline": "alphabetic"}},
     "y2": {"field": "hi"},
     "color": {"field": "series", "type": "nominal", "scale": {"domain": ["G'_Storage Modulus", "G\"_Loss Modulus"], "range": ["#c6a3ea", "#36c4ec"]}, "legend": null}
    }},
   {"mark": {"type": "line", "strokeWidth": 1.3},
    "encoding": {
     "x": {"field": "temperature", "type": "quantitative",
       "axis": {"orient": "bottom", "values": [10, 20, 30, 40, 50], "title": "Temperature (°C)", "tickSize": 6, "labelPadding": 8, "labelFontSize": 13, "titleFontSize": 14, "titlePadding": 5}},
     "y": {"field": "modulus", "type": "quantitative",
       "axis": {"orient": "left", "values": [0.01, 0.1, 1, 10, 100, 1000, 10000], "format": "~g", "title": "Modulus (Log. Pa)", "tickSize": 6, "labelPadding": 1, "labelFontSize": 13, "titleFontSize": 13.5, "titlePadding": 9}},
     "color": {"field": "series", "type": "nominal", "scale": {"domain": ["G'_Storage Modulus", "G\"_Loss Modulus"], "range": ["#7657ad", "#4479dd"]},
       "legend": {"orient": "none", "legendX": 8, "legendY": -0.5, "title": null, "labelFontSize": 15, "labelFontWeight": "normal", "symbolType": "stroke", "symbolSize": 289, "symbolStrokeWidth": 1.5, "labelOffset": 11, "rowPadding": 7}}
    }}
  ],
  "resolve": {"scale": {"color": "independent"}, "axis": {"x": "independent", "y": "independent"}}
 },
 {
  "width": 285, "height": 10,
  "view": {"stroke": null},
  "data": {"values": []},
  "mark": {"type": "point", "opacity": 0},
  "encoding": {
   "x": {"field": "v", "type": "quantitative",
     "axis": {"orient": "bottom", "labels": false, "ticks": false, "domain": false, "grid": false, "title": "Figure 3.", "titleFont": "Liberation Serif", "titleFontWeight": "bold", "titleFontSize": 21.3, "titleColor": "#1a1a1a", "titleX": -73, "titleY": -67, "titleAlign": "left", "titleBaseline": "top", "titleAngle": 0}}
  },
  "title": {
   "text": [
    "\u200b\u00a0\u00a0\u00a0\u00a0\u00a0\u00a0\u00a0\u00a0\u00a0\u00a0\u00a0\u00a0\u00a0\u00a0\u00a0\u00a0Rheological characterization of bioinks for 3D bioprinting of skeletal muscle bioactuators. (A) Viscosity curves (right)",
    "and flow curves (left) of gelatin-fibrinogen hydrogels at different gelatin concentrations, with fibrinogen fixed at 4% (wt/v). (B)",
    "Evolution of shear modulus of gelatin-fibrinogen hydrogels with and without Matrigel over time, starting from the point at which",
    "thrombin is added to the mixture, which is kept at 37 °C to induce Matrigel crosslinking as well. (C)–(E) Temperature sweep",
    "measurements performed at an oscillating shear strain of 1% and an angular frequency of 1 rad s⁻¹ . (C) Gelatin 7% with",
    "Fibrinogen 4 %. (D) Gelatin 7% with Fibrinogen 4% and Thrombin 1.67 units ml⁻¹. (E) Gelatin 7% with fibrinogen 4 %,",
    "Thrombin 1.67 units ml ⁻¹ and Matrigel 50 %."
   ],
   "orient": "bottom", "anchor": "start", "frame": "group", "baseline": "top",
   "font": "Liberation Serif", "fontSize": 21.3, "fontWeight": "normal", "lineHeight": 24, "color": "#1a1a1a",
   "dx": -73, "dy": -67, "offset": 0
  }
 }
]
}
